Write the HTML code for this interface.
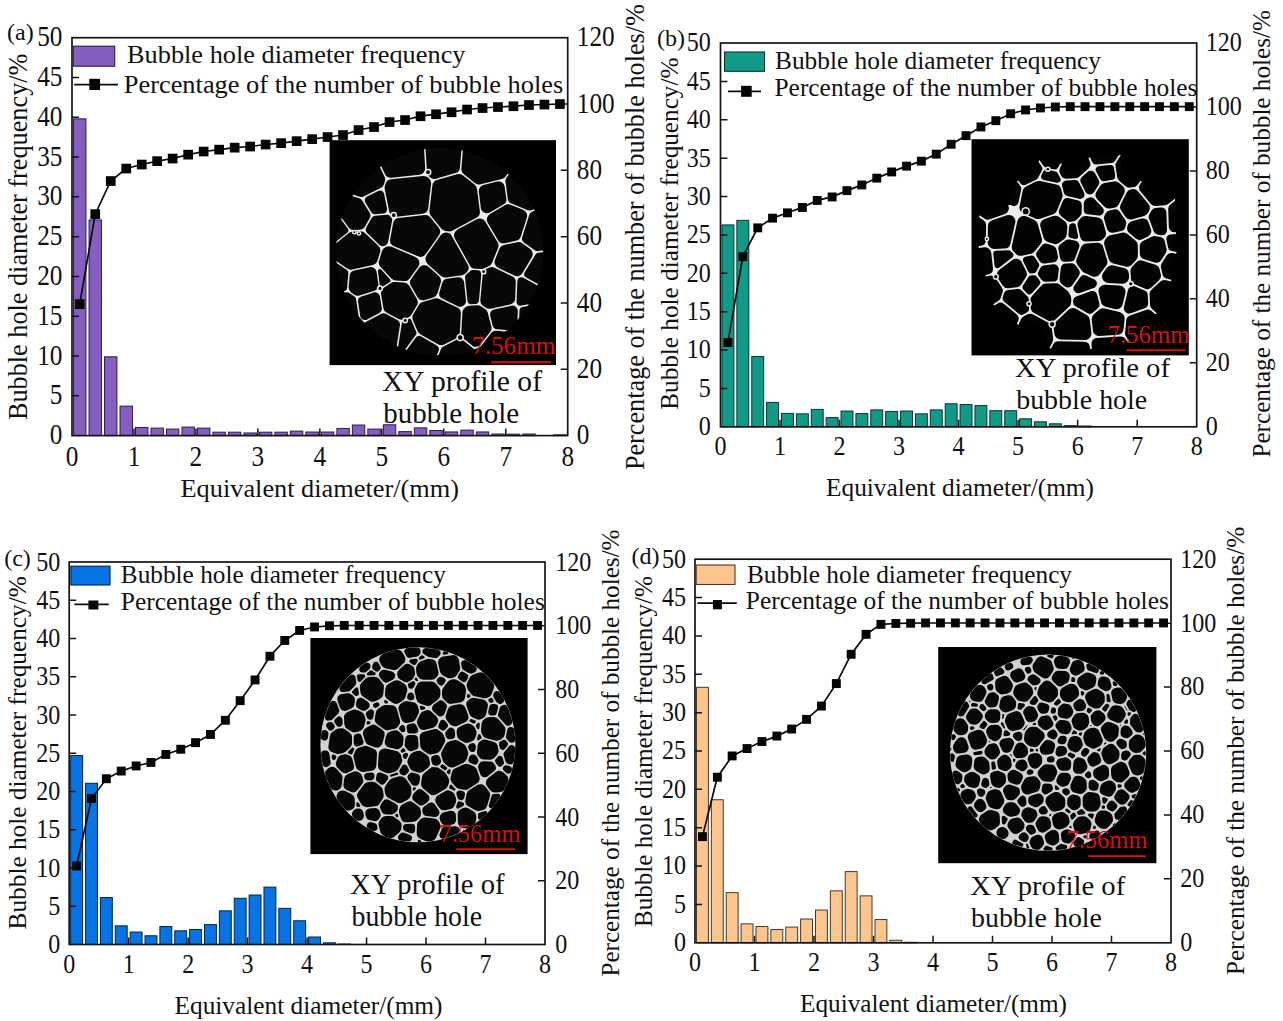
<!DOCTYPE html>
<html lang="en">
<head>
<meta charset="utf-8">
<title>Bubble hole diameter distribution</title>
<style>
html,body{margin:0;padding:0;background:#fff;}
body{width:1283px;height:1021px;overflow:hidden;}
svg{display:block;}
svg text{font-family:"Liberation Serif", serif;fill:#111;}
</style>
</head>
<body>
<svg width="1283" height="1021" viewBox="0 0 1283 1021">
<defs>
<filter id="soft" x="-5%" y="-5%" width="110%" height="110%" color-interpolation-filters="sRGB"><feGaussianBlur stdDeviation="0.55"/></filter>
</defs>
<rect width="1283" height="1021" fill="#fff"/>
<g id="pa">
<g fill="#845EC0" stroke="#2c1d4d" stroke-width="1.0"><rect x="73.55" y="118.87" width="12.39" height="316.73"/><rect x="89.04" y="219.94" width="12.39" height="215.66"/><rect x="104.53" y="356.82" width="12.39" height="78.78"/><rect x="120.02" y="406.16" width="12.39" height="29.44"/><rect x="135.51" y="427.48" width="12.39" height="8.12"/><rect x="151.00" y="428.12" width="12.39" height="7.48"/><rect x="166.49" y="429.07" width="12.39" height="6.53"/><rect x="181.98" y="427.08" width="12.39" height="8.52"/><rect x="197.47" y="428.12" width="12.39" height="7.48"/><rect x="212.96" y="432.18" width="12.39" height="3.42"/><rect x="228.46" y="432.18" width="12.39" height="3.42"/><rect x="243.95" y="432.97" width="12.39" height="2.63"/><rect x="259.44" y="432.18" width="12.39" height="3.42"/><rect x="274.93" y="432.18" width="12.39" height="3.42"/><rect x="290.42" y="431.14" width="12.39" height="4.46"/><rect x="305.91" y="432.02" width="12.39" height="3.58"/><rect x="321.40" y="432.02" width="12.39" height="3.58"/><rect x="336.89" y="428.44" width="12.39" height="7.16"/><rect x="352.38" y="425.02" width="12.39" height="10.58"/><rect x="367.87" y="429.07" width="12.39" height="6.53"/><rect x="383.36" y="424.78" width="12.39" height="10.82"/><rect x="398.85" y="431.62" width="12.39" height="3.98"/><rect x="414.34" y="427.88" width="12.39" height="7.72"/><rect x="429.83" y="430.51" width="12.39" height="5.09"/><rect x="445.32" y="431.94" width="12.39" height="3.66"/><rect x="460.81" y="430.11" width="12.39" height="5.49"/><rect x="476.31" y="431.94" width="12.39" height="3.66"/><rect x="491.80" y="434.01" width="12.39" height="1.59"/><rect x="507.29" y="434.17" width="12.39" height="1.43"/><rect x="522.78" y="434.01" width="12.39" height="1.59"/><rect x="553.76" y="434.80" width="12.39" height="0.80"/></g>
<rect x="72.0" y="37.7" width="495.7" height="397.9" fill="none" stroke="#141414" stroke-width="1.7"/>
<path d="M72.0 395.81h7.0M72.0 356.02h7.0M72.0 316.23h7.0M72.0 276.44h7.0M72.0 236.65h7.0M72.0 196.86h7.0M72.0 157.07h7.0M72.0 117.28h7.0M72.0 77.49h7.0M567.7 369.28h-7.0M567.7 302.97h-7.0M567.7 236.65h-7.0M567.7 170.33h-7.0M567.7 104.02h-7.0M133.96 435.6v-7.0M195.93 435.6v-7.0M257.89 435.6v-7.0M319.85 435.6v-7.0M381.81 435.6v-7.0M443.78 435.6v-7.0M505.74 435.6v-7.0" stroke="#141414" stroke-width="1.5" fill="none"/>
<g id="cta"><rect x="329.6" y="140.2" width="226.4" height="224.9" fill="#000"/><circle cx="439.6" cy="251.7" r="103.6" fill="#070707"/><clipPath id="cla"><circle cx="439.6" cy="251.7" r="103.6"/></clipPath><g clip-path="url(#cla)"><g filter="url(#soft)"><rect x="329.6" y="140.2" width="226.4" height="224.9" fill="#ececec"/><g fill="#070707" stroke="#070707" stroke-linejoin="round"><path d="M381.8 284.9L379.9 271.1L388.5 280.5Z" stroke-width="4.0"/><path d="M399.4 353.4L404.1 323.4L409.3 321.1L414.3 333.1Z" stroke-width="4.5"/><path d="M487.3 425.1L413.9 425.1L444.0 349.6L459.8 341.5L473.4 352.4ZM269.6 248.1L269.6 160.4L313.3 186.6L345.3 230.3L321.6 249.3Z" stroke-width="6.0"/><path d="M269.6 312.5L269.6 255.9L321.5 257.1L344.9 273.0L343.6 287.8Z" stroke-width="7.0"/><path d="M471.2 300.4L468.8 277.3L472.8 273.8L477.6 274.0L475.2 300.2ZM616.0 247.4L616.0 302.1L564.6 294.6L528.0 274.3L538.7 256.5ZM616.0 311.4L616.0 425.1L605.9 425.1L522.4 330.2L523.2 310.6L563.2 303.6ZM298.3 425.1L269.6 425.1L269.6 321.7L346.9 295.9L352.4 299.7L355.8 322.9Z" stroke-width="7.5"/><path d="M520.5 301.6L521.4 281.3L549.0 296.6Z" stroke-width="8.0"/><path d="M369.0 200.3L380.0 194.8L382.9 209.3L374.9 210.0Z" stroke-width="8.5"/><path d="M616.0 189.7L616.0 237.2L537.5 246.4L526.7 238.6L533.9 216.0ZM370.5 229.5L375.6 220.5L387.0 219.5L387.4 219.9L383.4 241.2L382.9 241.5ZM362.8 301.0L375.2 297.1L377.1 308.8L364.9 315.3ZM403.8 425.1L380.2 425.1L399.4 367.8L419.3 340.8L434.1 349.3Z" stroke-width="9.5"/><path d="M587.7 80.2L616.0 80.2L616.0 177.9L529.7 205.5L512.8 198.7L510.4 180.7ZM368.3 425.1L310.1 425.1L364.7 328.1L383.3 318.3L395.0 324.4L388.9 363.8ZM592.2 425.1L497.0 425.1L483.0 351.7L495.5 335.7L514.9 337.3Z" stroke-width="10.0"/><path d="M269.6 80.2L333.3 80.2L380.0 179.4L378.8 183.0L361.3 191.7L318.2 178.4L269.6 149.2ZM497.6 324.1L495.3 314.6L512.6 310.8L512.0 325.3Z" stroke-width="10.5"/><path d="M332.7 196.0L357.5 203.7L364.7 215.4L359.7 224.1L353.5 224.3ZM355.4 276.2L370.9 272.8L372.7 285.2L357.7 290.0L354.4 287.7ZM445.0 293.6L447.8 284.5L458.4 282.9L460.3 301.0ZM466.9 334.0L468.2 312.4L469.6 311.4L477.4 310.9L482.2 314.1L485.8 328.2L475.8 341.1Z" stroke-width="11.5"/><path d="M486.8 207.2L484.8 190.9L498.7 187.4L500.4 199.3Z" stroke-width="12.0"/><path d="M427.6 80.2L461.2 80.2L453.7 167.1L434.2 172.7L433.2 171.7ZM500.8 262.1L505.2 251.1L518.6 248.3L526.5 254.1L517.1 269.9Z" stroke-width="12.5"/><path d="M347.9 80.2L413.4 80.2L418.7 168.3L390.8 171.3ZM475.4 80.2L571.3 80.2L500.2 172.7L479.1 178.0L467.8 169.2ZM391.8 185.7L423.7 182.4L424.6 183.2L421.8 207.2L395.9 210.3L395.6 210.1L391.1 187.7ZM435.9 211.6L438.8 186.2L458.7 180.5L470.6 189.7L473.4 212.1L449.2 224.9L446.3 224.5ZM493.3 219.5L508.2 210.8L520.6 215.8L514.6 234.5L503.6 236.8ZM396.6 240.2L399.5 224.5L425.2 221.4L433.5 231.7L420.5 250.3ZM460.5 235.3L479.8 225.0L492.0 245.5L486.2 260.2L481.1 262.6L475.6 262.3ZM432.0 259.1L446.0 239.1L446.1 239.1L462.1 267.7L461.0 268.7L445.1 271.0ZM352.9 238.1L360.7 237.8L373.8 250.5L371.3 258.6L350.8 263.2L335.0 252.4ZM385.3 262.3L388.1 253.2L389.0 252.7L412.9 262.9L404.4 274.6L395.9 274.0ZM416.5 282.5L424.4 271.7L434.5 280.9L431.4 291.2L423.0 293.7ZM486.8 300.6L489.2 274.7L491.7 273.6L509.3 282.1L508.7 298.1L489.4 302.3ZM389.8 307.1L387.5 293.1L394.5 288.4L403.6 289.0L411.3 302.2L405.8 311.4L401.6 313.3ZM418.9 317.6L424.4 308.3L436.5 304.8L454.4 313.4L453.3 332.4L441.2 338.7L423.5 328.5Z" stroke-width="13.0"/></g><g fill="#ececec"><circle cx="393.7" cy="215.1" r="3.4"/><circle cx="428.1" cy="172.2" r="3.4"/><circle cx="380.0" cy="288.4" r="3.1"/><circle cx="405.2" cy="320.5" r="2.9"/><circle cx="483.6" cy="271.7" r="2.9"/><circle cx="460.2" cy="337.6" r="3.8"/><circle cx="358.9" cy="233.4" r="2.4"/><circle cx="354.3" cy="232.2" r="2.4"/></g><g fill="#070707"><circle cx="393.7" cy="215.1" r="1.9"/><circle cx="428.1" cy="172.2" r="1.9"/><circle cx="380.0" cy="288.4" r="1.6"/><circle cx="405.2" cy="320.5" r="1.4"/><circle cx="483.6" cy="271.7" r="1.4"/><circle cx="460.2" cy="337.6" r="2.3"/><circle cx="358.9" cy="233.4" r="0.9"/><circle cx="354.3" cy="232.2" r="0.9"/></g></g></g></g>
<text x="472.0" y="354.2" font-size="25" textLength="83.5" lengthAdjust="spacingAndGlyphs" style="fill:#d81010">7.56mm</text>
<path d="M491.2 362.2H551.2" stroke="#d81010" stroke-width="1.9"/>
<polyline points="79.7,304.2 95.2,214.2 110.7,181.0 126.2,168.5 141.7,164.5 157.2,161.2 172.7,158.5 188.2,154.7 203.7,151.5 219.2,149.7 234.7,147.7 250.1,146.5 265.6,144.5 281.1,143.2 296.6,141.2 312.1,139.2 327.6,137.0 343.1,135.0 358.6,130.0 374.1,127.0 389.6,122.0 405.0,120.0 420.5,116.2 436.0,114.2 451.5,112.2 467.0,109.5 482.5,108.0 498.0,107.0 513.5,106.2 529.0,105.0 544.5,104.5 560.0,104.0" fill="none" stroke="#0a0a0a" stroke-width="1.7"/>
<g fill="#050505"><rect x="74.9" y="299.3" width="9.7" height="9.7"/><rect x="90.4" y="209.3" width="9.7" height="9.7"/><rect x="105.9" y="176.2" width="9.7" height="9.7"/><rect x="121.4" y="163.7" width="9.7" height="9.7"/><rect x="136.9" y="159.7" width="9.7" height="9.7"/><rect x="152.3" y="156.3" width="9.7" height="9.7"/><rect x="167.8" y="153.7" width="9.7" height="9.7"/><rect x="183.3" y="149.8" width="9.7" height="9.7"/><rect x="198.8" y="146.7" width="9.7" height="9.7"/><rect x="214.3" y="144.8" width="9.7" height="9.7"/><rect x="229.8" y="142.8" width="9.7" height="9.7"/><rect x="245.3" y="141.7" width="9.7" height="9.7"/><rect x="260.8" y="139.7" width="9.7" height="9.7"/><rect x="276.3" y="138.3" width="9.7" height="9.7"/><rect x="291.8" y="136.3" width="9.7" height="9.7"/><rect x="307.3" y="134.3" width="9.7" height="9.7"/><rect x="322.7" y="132.2" width="9.7" height="9.7"/><rect x="338.2" y="130.2" width="9.7" height="9.7"/><rect x="353.7" y="125.2" width="9.7" height="9.7"/><rect x="369.2" y="122.2" width="9.7" height="9.7"/><rect x="384.7" y="117.2" width="9.7" height="9.7"/><rect x="400.2" y="115.2" width="9.7" height="9.7"/><rect x="415.7" y="111.4" width="9.7" height="9.7"/><rect x="431.2" y="109.4" width="9.7" height="9.7"/><rect x="446.7" y="107.4" width="9.7" height="9.7"/><rect x="462.2" y="104.7" width="9.7" height="9.7"/><rect x="477.7" y="103.2" width="9.7" height="9.7"/><rect x="493.1" y="102.2" width="9.7" height="9.7"/><rect x="508.6" y="101.4" width="9.7" height="9.7"/><rect x="524.1" y="100.2" width="9.7" height="9.7"/><rect x="539.6" y="99.7" width="9.7" height="9.7"/><rect x="555.1" y="99.2" width="9.7" height="9.7"/></g>
<rect x="73.3" y="46.2" width="41.4" height="20.0" fill="#845EC0" stroke="#2c1d4d" stroke-width="1.1"/>
<path d="M74.2 84.6H118.0" stroke="#0a0a0a" stroke-width="1.8"/>
<rect x="89.3" y="78.8" width="10.8" height="11.2" fill="#050505"/>
<text x="127.0" y="63.4" font-size="26" textLength="338.5" lengthAdjust="spacingAndGlyphs">Bubble hole diameter frequency</text>
<text x="123.8" y="93.2" font-size="26" textLength="439.5" lengthAdjust="spacingAndGlyphs">Percentage of the number of bubble holes</text>
<text transform="translate(62.40 444.20) scale(0.89 1)" font-size="28.4" text-anchor="end">0</text>
<text transform="translate(62.40 404.41) scale(0.89 1)" font-size="28.4" text-anchor="end">5</text>
<text transform="translate(62.40 364.62) scale(0.89 1)" font-size="28.4" text-anchor="end">10</text>
<text transform="translate(62.40 324.83) scale(0.89 1)" font-size="28.4" text-anchor="end">15</text>
<text transform="translate(62.40 285.04) scale(0.89 1)" font-size="28.4" text-anchor="end">20</text>
<text transform="translate(62.40 245.25) scale(0.89 1)" font-size="28.4" text-anchor="end">25</text>
<text transform="translate(62.40 205.46) scale(0.89 1)" font-size="28.4" text-anchor="end">30</text>
<text transform="translate(62.40 165.67) scale(0.89 1)" font-size="28.4" text-anchor="end">35</text>
<text transform="translate(62.40 125.88) scale(0.89 1)" font-size="28.4" text-anchor="end">40</text>
<text transform="translate(62.40 86.09) scale(0.89 1)" font-size="28.4" text-anchor="end">45</text>
<text transform="translate(62.40 46.30) scale(0.89 1)" font-size="28.4" text-anchor="end">50</text>
<text transform="translate(576.80 444.20) scale(0.89 1)" font-size="28.4">0</text>
<text transform="translate(576.80 377.88) scale(0.89 1)" font-size="28.4">20</text>
<text transform="translate(576.80 311.57) scale(0.89 1)" font-size="28.4">40</text>
<text transform="translate(576.80 245.25) scale(0.89 1)" font-size="28.4">60</text>
<text transform="translate(576.80 178.93) scale(0.89 1)" font-size="28.4">80</text>
<text transform="translate(576.80 112.62) scale(0.89 1)" font-size="28.4">100</text>
<text transform="translate(576.80 46.30) scale(0.89 1)" font-size="28.4">120</text>
<text transform="translate(72.00 465.50) scale(0.89 1)" font-size="28.4" text-anchor="middle">0</text>
<text transform="translate(133.96 465.50) scale(0.89 1)" font-size="28.4" text-anchor="middle">1</text>
<text transform="translate(195.93 465.50) scale(0.89 1)" font-size="28.4" text-anchor="middle">2</text>
<text transform="translate(257.89 465.50) scale(0.89 1)" font-size="28.4" text-anchor="middle">3</text>
<text transform="translate(319.85 465.50) scale(0.89 1)" font-size="28.4" text-anchor="middle">4</text>
<text transform="translate(381.81 465.50) scale(0.89 1)" font-size="28.4" text-anchor="middle">5</text>
<text transform="translate(443.78 465.50) scale(0.89 1)" font-size="28.4" text-anchor="middle">6</text>
<text transform="translate(505.74 465.50) scale(0.89 1)" font-size="28.4" text-anchor="middle">7</text>
<text transform="translate(567.70 465.50) scale(0.89 1)" font-size="28.4" text-anchor="middle">8</text>
<text x="180.5" y="496.8" font-size="26" textLength="278.5" lengthAdjust="spacingAndGlyphs">Equivalent diameter/(mm)</text>
<text x="27.0" y="420.1" font-size="27.3" textLength="366.5" lengthAdjust="spacingAndGlyphs" transform="rotate(-90 27.0 420.1)">Bubble hole diameter frequency/%</text>
<text x="644.2" y="470.1" font-size="27.3" textLength="466.0" lengthAdjust="spacingAndGlyphs" transform="rotate(-90 644.2 470.1)">Percentage of the number of bubble holes/%</text>
<text x="7.0" y="39.6" font-size="24">(a)</text>
<text x="382.0" y="391.3" font-size="29" textLength="160.0" lengthAdjust="spacingAndGlyphs">XY profile of</text>
<text x="383.2" y="423.0" font-size="29" textLength="136.0" lengthAdjust="spacingAndGlyphs">bubble hole</text>
</g>
<g id="pb">
<g fill="#129A88" stroke="#083530" stroke-width="1.0"><rect x="721.99" y="224.92" width="11.91" height="201.88"/><rect x="736.87" y="220.32" width="11.91" height="206.48"/><rect x="751.75" y="356.56" width="11.91" height="70.24"/><rect x="766.63" y="402.39" width="11.91" height="24.41"/><rect x="781.51" y="413.37" width="11.91" height="13.43"/><rect x="796.39" y="413.83" width="11.91" height="12.97"/><rect x="811.28" y="409.38" width="11.91" height="17.42"/><rect x="826.16" y="417.59" width="11.91" height="9.21"/><rect x="841.04" y="411.06" width="11.91" height="15.74"/><rect x="855.92" y="413.60" width="11.91" height="13.20"/><rect x="870.80" y="409.91" width="11.91" height="16.89"/><rect x="885.68" y="411.45" width="11.91" height="15.35"/><rect x="900.56" y="411.06" width="11.91" height="15.74"/><rect x="915.44" y="413.83" width="11.91" height="12.97"/><rect x="930.33" y="409.91" width="11.91" height="16.89"/><rect x="945.21" y="403.77" width="11.91" height="23.03"/><rect x="960.09" y="404.54" width="11.91" height="22.26"/><rect x="974.97" y="405.61" width="11.91" height="21.19"/><rect x="989.85" y="410.68" width="11.91" height="16.12"/><rect x="1004.73" y="410.68" width="11.91" height="16.12"/><rect x="1019.61" y="418.82" width="11.91" height="7.98"/><rect x="1034.49" y="421.81" width="11.91" height="4.99"/><rect x="1049.38" y="423.81" width="11.91" height="2.99"/><rect x="1064.26" y="425.65" width="11.91" height="1.15"/><rect x="1079.14" y="426.03" width="11.91" height="0.77"/></g>
<rect x="720.5" y="43.0" width="476.2" height="383.8" fill="none" stroke="#141414" stroke-width="1.7"/>
<path d="M720.5 388.42h7.0M720.5 350.04h7.0M720.5 311.66h7.0M720.5 273.28h7.0M720.5 234.90h7.0M720.5 196.52h7.0M720.5 158.14h7.0M720.5 119.76h7.0M720.5 81.38h7.0M1196.7 362.83h-7.0M1196.7 298.87h-7.0M1196.7 234.90h-7.0M1196.7 170.93h-7.0M1196.7 106.97h-7.0M780.02 426.8v-7.0M839.55 426.8v-7.0M899.08 426.8v-7.0M958.60 426.8v-7.0M1018.12 426.8v-7.0M1077.65 426.8v-7.0M1137.18 426.8v-7.0" stroke="#141414" stroke-width="1.5" fill="none"/>
<g id="ctb"><rect x="971.5" y="139.2" width="217.3" height="216.2" fill="#000"/><clipPath id="clb"><path d="M1067.4 177.8L1072.3 196.5L1062.7 220.2L1037.3 229.0L1013.7 218.7L1009.7 214.0L1009.4 211.5L1015.4 182.0L1036.9 171.2ZM1082.9 170.9L1097.0 198.7L1085.1 209.5L1057.3 202.6L1052.6 184.3L1056.5 172.2ZM1098.1 159.6L1110.2 183.0L1097.7 203.3L1082.6 205.7L1068.2 177.3L1091.4 156.3ZM1125.9 186.5L1096.6 191.5L1083.9 167.1L1086.3 158.1L1121.0 155.1ZM1103.7 218.9L1082.7 197.0L1096.1 175.4L1119.1 171.4L1137.4 186.8L1123.5 214.8ZM1046.9 216.5L1059.1 186.6L1091.0 194.5L1090.5 217.9L1080.0 229.5L1066.3 231.4ZM1074.5 221.8L1074.9 197.1L1083.5 189.3L1095.7 187.4L1116.3 208.9L1106.9 225.7ZM1162.0 206.4L1152.4 222.9L1124.3 230.7L1108.8 208.5L1122.1 181.5L1139.6 179.2ZM1094.0 216.1L1101.2 203.1L1121.6 198.9L1136.2 219.8L1132.0 237.8L1102.0 244.2ZM1167.5 245.9L1147.8 241.4L1138.4 215.3L1147.5 199.6L1174.9 197.2L1176.2 237.1ZM1021.6 203.2L1027.3 209.9L1016.6 256.9L989.2 258.1L978.7 249.7L979.2 215.6L1015.3 202.8ZM1001.4 251.6L1011.8 205.9L1012.8 205.0L1017.5 202.9L1044.4 214.6L1052.4 243.4L1038.5 261.1L1019.6 265.3L1012.0 262.6ZM1037.1 248.0L1027.9 215.3L1058.1 204.9L1076.9 219.3L1075.0 242.2L1058.3 254.7ZM1058.8 244.2L1061.1 216.0L1082.3 213.1L1089.3 246.3L1083.9 250.2ZM1072.7 245.0L1067.3 219.7L1079.5 206.3L1108.8 209.8L1116.4 236.5L1106.6 249.3L1078.6 250.9ZM1116.5 234.0L1120.9 215.1L1152.2 206.4L1163.8 238.6L1137.5 251.4ZM1102.7 270.0L1093.6 240.0L1103.1 227.6L1127.5 222.4L1146.6 238.2L1146.9 261.7L1131.9 277.4ZM1163.1 274.5L1130.9 264.4L1130.5 237.0L1152.9 226.2L1171.6 230.4L1176.6 252.7ZM1065.6 263.4L1075.5 236.5L1077.7 235.0L1108.3 233.2L1117.9 264.9L1099.8 289.3L1099.7 289.3L1076.8 279.1ZM1048.0 242.4L1065.6 229.3L1084.1 233.8L1091.0 240.7L1080.2 270.0L1057.6 270.8L1052.7 266.6ZM1024.2 253.4L1040.7 232.3L1063.7 239.7L1068.7 265.1L1064.5 269.8L1036.8 273.7ZM1011.0 250.9L1037.7 244.9L1050.1 264.8L1041.0 281.6L1023.9 283.0L1010.4 255.3ZM987.4 267.8L1015.0 246.7L1025.9 250.6L1037.9 275.2L1024.9 295.3L1000.5 298.1L985.2 275.1ZM983.1 242.3L1013.5 241.1L1026.6 254.8L1026.1 258.4L994.2 282.7L987.0 278.7L983.0 242.4ZM1026.5 274.8L1035.7 257.7L1062.5 253.9L1068.8 259.4L1065.6 290.2L1038.8 290.9ZM1049.9 285.8L1052.8 258.9L1056.4 254.8L1078.5 254.1L1091.9 272.6L1071.0 303.0ZM1010.0 288.8L1024.1 267.0L1039.7 265.7L1053.1 283.2L1029.7 309.3ZM1092.0 291.0L1088.4 277.7L1105.8 254.3L1136.9 262.2L1138.8 287.1L1130.6 293.2ZM1150.2 300.6L1123.5 289.0L1122.8 288.0L1121.1 265.6L1136.5 249.4L1166.4 258.8L1171.3 281.0ZM1022.1 316.6L1021.4 294.6L1039.0 274.9L1061.1 274.3L1075.7 286.1L1080.2 294.9L1080.0 308.9L1053.4 333.6ZM1068.3 306.7L1060.0 290.7L1079.2 262.6L1103.9 273.6L1106.6 283.7L1102.9 294.3ZM1063.9 309.9L1064.3 291.1L1101.3 277.8L1102.6 279.2L1110.1 309.5L1091.3 326.0ZM1094.5 313.3L1088.2 287.6L1092.7 275.0L1134.9 277.4L1137.3 280.8L1127.9 321.4ZM998.4 282.3L1023.2 279.4L1037.4 294.2L1038.1 316.4L1020.2 326.5L991.5 302.9ZM1043.7 320.8L1070.9 295.5L1097.9 311.3L1101.1 339.3L1094.7 349.0L1047.2 348.2ZM1085.5 344.4L1082.0 313.0L1099.0 297.9L1126.3 304.6L1134.0 313.3L1131.2 342.8L1086.7 345.8ZM1123.3 325.4L1113.2 314.0L1121.0 280.3L1129.4 274.2L1156.3 285.8L1157.5 313.2ZM1071.0 179.1L1066.3 193.9L1025.9 185.2L1039.8 159.2L1062.9 164.0Z" clip-rule="nonzero"/></clipPath><g clip-path="url(#clb)"><g filter="url(#soft)"><rect x="971.5" y="139.2" width="217.3" height="216.2" fill="#ececec"/><g fill="#030303" stroke="#030303" stroke-linejoin="round"><path d="M1071.1 235.2L1071.9 226.2L1073.2 226.0L1075.4 236.3Z" stroke-width="5.5"/><path d="M996.3 253.8L1008.5 253.3L1010.4 255.2L997.5 265.1Z" stroke-width="6.0"/><path d="M1026.2 260.0L1031.9 258.7L1036.0 265.2L1033.4 270.0L1031.2 270.2ZM1057.4 179.5L1044.3 176.7L1046.2 173.0L1054.9 174.8Z" stroke-width="6.5"/><path d="M1111.5 176.1L1103.6 177.5L1099.5 169.7L1110.3 168.7ZM1026.3 287.2L1031.4 279.2L1033.8 279.0L1036.5 282.5L1029.4 290.5Z" stroke-width="7.5"/><path d="M1068.2 191.6L1066.5 185.0L1075.0 184.6L1080.0 194.5ZM1008.4 294.5L1018.2 293.4L1024.3 299.7L1024.6 308.7L1021.6 310.4L1007.1 298.4ZM1080.3 79.2L1162.1 79.2L1111.2 158.6L1096.0 159.9L1082.3 126.8ZM1248.8 231.5L1248.8 262.0L1172.5 246.7L1170.8 239.0Z" stroke-width="9.0"/><path d="M1088.5 209.6L1088.6 203.3L1089.7 202.3L1090.7 202.1L1099.1 210.9ZM1078.2 288.5L1084.1 279.9L1092.1 283.5L1092.0 283.5ZM911.5 79.2L934.1 79.2L1016.5 188.7L1013.9 201.3L911.5 111.5ZM948.0 79.2L974.9 79.2L1037.5 168.7L1033.9 175.4L1024.1 180.3Z" stroke-width="9.5"/><path d="M1090.8 175.7L1094.3 182.4L1089.9 189.4L1085.4 180.5ZM1162.0 230.3L1158.4 229.5L1153.7 216.7L1155.9 212.9L1161.4 212.4ZM1063.3 248.3L1068.6 244.4L1074.4 245.7L1070.4 256.5L1064.9 256.7ZM1041.2 254.3L1045.7 248.6L1051.6 250.5L1053.0 257.3L1043.9 258.6ZM1043.0 273.5L1044.6 270.5L1053.8 269.2L1053.0 276.6L1045.5 276.8ZM1078.1 302.0L1078.1 301.1L1092.3 295.9L1094.5 304.6L1089.7 308.8ZM988.8 79.2L1069.1 79.2L1071.1 126.8L1054.2 164.4L1047.5 163.0Z" stroke-width="10.0"/><path d="M1129.1 308.2L1133.1 291.2L1142.5 295.3L1142.9 303.3Z" stroke-width="10.5"/><path d="M1064.4 211.7L1067.7 203.6L1076.3 205.7L1076.2 212.2L1072.8 215.9L1070.3 216.3ZM1109.5 217.9L1110.6 215.9L1115.2 214.9L1120.7 222.8L1120.1 225.6L1112.2 227.3ZM1065.1 279.6L1066.2 268.9L1071.3 268.8L1074.2 272.8L1068.0 281.9ZM1248.8 150.5L1248.8 219.7L1174.3 226.8L1173.7 208.9ZM1172.2 415.4L1101.5 415.4L1097.0 343.5L1120.7 341.9ZM1088.6 415.4L1023.9 415.4L1058.2 346.8L1084.4 347.3ZM911.5 286.3L911.5 263.5L984.9 252.7L985.8 253.3L987.5 268.8ZM980.6 224.8L980.4 240.3L911.5 250.5L911.5 180.5Z" stroke-width="11.0"/><path d="M1248.8 274.2L1248.8 295.1L1168.1 272.9L1166.6 266.2L1171.3 258.7ZM1248.8 408.2L1248.8 415.4L1188.1 415.4L1130.8 333.5L1132.0 320.9L1147.7 315.3ZM969.9 415.4L911.5 415.4L911.5 367.8L1000.4 308.5L1012.9 318.7ZM911.5 351.8L911.5 299.7L990.9 281.4L997.1 290.6L995.3 295.9Z" stroke-width="11.5"/><path d="M1133.1 228.5L1133.4 227.0L1142.9 224.4L1145.3 231.1L1139.6 233.9ZM1156.5 256.7L1145.8 253.4L1145.7 246.3L1154.7 242.0L1159.0 242.9L1160.6 250.0ZM1084.4 164.0L1075.3 172.3L1066.4 172.7L1065.4 170.8L1076.8 145.6ZM1002.9 208.3L988.0 213.6L911.5 164.6L911.5 128.2Z" stroke-width="12.0"/><path d="M1003.1 274.8L1016.1 264.9L1020.6 274.1L1016.0 281.1L1007.9 282.1ZM1147.1 282.8L1137.2 278.5L1136.7 271.1L1140.9 266.6L1153.5 270.6L1154.7 275.8ZM1176.9 79.2L1212.2 79.2L1132.4 181.1L1129.6 181.4L1123.4 176.2L1121.7 165.3Z" stroke-width="12.5"/><path d="M1054.9 190.8L1056.1 195.5L1051.0 208.0L1038.0 212.5L1026.0 207.2L1029.0 192.4L1038.9 187.4ZM1108.9 202.1L1102.1 195.0L1105.6 189.4L1114.7 187.8L1118.2 190.8L1113.0 201.3ZM1130.7 213.0L1126.6 207.1L1132.3 195.7L1133.1 195.6L1143.3 207.9L1142.3 209.7ZM1008.9 221.4L1004.2 242.0L994.3 242.5L994.2 242.4L994.4 226.5ZM1018.3 247.0L1023.8 222.4L1031.5 225.8L1035.5 240.0L1029.7 247.3L1020.6 249.3L1020.6 249.3ZM1049.7 235.8L1046.7 225.1L1055.3 222.2L1060.9 226.4L1060.2 234.1L1055.4 237.6ZM1086.4 235.1L1084.0 224.2L1085.5 222.5L1096.8 223.9L1099.5 233.3L1098.6 234.4ZM1110.6 243.0L1111.8 241.5L1123.4 239.0L1131.3 245.5L1131.4 255.6L1127.0 260.3L1114.9 257.2ZM1082.8 261.1L1087.0 249.9L1097.1 249.3L1100.9 261.9L1094.7 270.2L1086.9 266.7ZM1108.5 276.5L1112.0 271.7L1122.4 274.4L1122.6 277.3ZM1037.2 307.3L1037.0 300.2L1046.1 290.1L1055.8 289.8L1063.5 296.1L1064.7 298.6L1064.7 302.1L1051.0 314.8ZM1107.3 300.5L1105.0 291.2L1119.0 291.9L1116.4 302.8ZM1060.0 326.7L1073.0 314.6L1083.4 320.7L1084.9 333.5L1060.8 333.0ZM1099.3 329.5L1098.2 319.2L1103.2 314.8L1117.9 318.4L1118.1 318.5L1117.1 328.3ZM1230.6 79.2L1248.8 79.2L1248.8 133.0L1164.4 198.7L1155.6 199.5L1145.7 187.6ZM1248.8 309.7L1248.8 389.2L1156.5 304.3L1156.1 294.3L1164.5 286.5ZM1008.5 415.4L985.3 415.4L1026.8 322.1L1030.1 320.2L1045.3 328.5L1046.7 339.0Z" stroke-width="13.0"/></g><g fill="#ececec"><circle cx="1052.2" cy="324.3" r="3.7"/><circle cx="1025.7" cy="211.4" r="4.4"/><circle cx="1047.8" cy="169.3" r="2.8"/><circle cx="1029.0" cy="303.7" r="2.8"/><circle cx="1130.8" cy="283.8" r="3.1"/><circle cx="995.8" cy="276.7" r="3.1"/><circle cx="986.9" cy="239.0" r="2.4"/></g><g fill="#030303"><circle cx="1052.2" cy="324.3" r="2.2"/><circle cx="1025.7" cy="211.4" r="2.9"/><circle cx="1047.8" cy="169.3" r="1.3"/><circle cx="1029.0" cy="303.7" r="1.3"/><circle cx="1130.8" cy="283.8" r="1.6"/><circle cx="995.8" cy="276.7" r="1.6"/><circle cx="986.9" cy="239.0" r="0.9"/></g></g></g></g>
<text x="1107.5" y="343.2" font-size="25" textLength="82.0" lengthAdjust="spacingAndGlyphs" style="fill:#d81010">7.56mm</text>
<path d="M1126.7 350.2H1185.5" stroke="#d81010" stroke-width="1.9"/>
<polyline points="727.9,342.5 742.8,256.6 757.7,227.8 772.6,218.1 787.5,212.8 802.3,207.4 817.2,200.4 832.1,196.9 847.0,190.6 861.9,184.9 876.8,178.1 891.6,171.9 906.5,166.1 921.4,161.1 936.3,154.1 951.2,144.2 966.0,135.7 980.9,127.0 995.8,120.7 1010.7,113.8 1025.6,110.0 1040.4,108.0 1055.3,107.0 1070.2,106.7 1085.1,106.7 1100.0,106.7 1114.9,106.7 1129.7,106.7 1144.6,106.7 1159.5,106.7 1174.4,106.7 1189.3,106.7" fill="none" stroke="#0a0a0a" stroke-width="1.7"/>
<g fill="#050505"><rect x="723.5" y="338.1" width="8.9" height="8.9"/><rect x="738.4" y="252.2" width="8.9" height="8.9"/><rect x="753.3" y="223.4" width="8.9" height="8.9"/><rect x="768.1" y="213.7" width="8.9" height="8.9"/><rect x="783.0" y="208.4" width="8.9" height="8.9"/><rect x="797.9" y="203.0" width="8.9" height="8.9"/><rect x="812.8" y="196.0" width="8.9" height="8.9"/><rect x="827.7" y="192.5" width="8.9" height="8.9"/><rect x="842.5" y="186.2" width="8.9" height="8.9"/><rect x="857.4" y="180.5" width="8.9" height="8.9"/><rect x="872.3" y="173.7" width="8.9" height="8.9"/><rect x="887.2" y="167.5" width="8.9" height="8.9"/><rect x="902.1" y="161.7" width="8.9" height="8.9"/><rect x="916.9" y="156.7" width="8.9" height="8.9"/><rect x="931.8" y="149.7" width="8.9" height="8.9"/><rect x="946.7" y="139.8" width="8.9" height="8.9"/><rect x="961.6" y="131.2" width="8.9" height="8.9"/><rect x="976.5" y="122.5" width="8.9" height="8.9"/><rect x="991.4" y="116.2" width="8.9" height="8.9"/><rect x="1006.2" y="109.3" width="8.9" height="8.9"/><rect x="1021.1" y="105.5" width="8.9" height="8.9"/><rect x="1036.0" y="103.5" width="8.9" height="8.9"/><rect x="1050.9" y="102.5" width="8.9" height="8.9"/><rect x="1065.8" y="102.2" width="8.9" height="8.9"/><rect x="1080.6" y="102.2" width="8.9" height="8.9"/><rect x="1095.5" y="102.2" width="8.9" height="8.9"/><rect x="1110.4" y="102.2" width="8.9" height="8.9"/><rect x="1125.3" y="102.2" width="8.9" height="8.9"/><rect x="1140.2" y="102.2" width="8.9" height="8.9"/><rect x="1155.0" y="102.2" width="8.9" height="8.9"/><rect x="1169.9" y="102.2" width="8.9" height="8.9"/><rect x="1184.8" y="102.2" width="8.9" height="8.9"/></g>
<rect x="724.5" y="52.0" width="40.0" height="19.3" fill="#129A88" stroke="#083530" stroke-width="1.1"/>
<path d="M728.0 91.4H761.0" stroke="#0a0a0a" stroke-width="1.8"/>
<rect x="741.1" y="85.8" width="10.6" height="11.0" fill="#050505"/>
<text x="775.0" y="68.6" font-size="25.5" textLength="326.0" lengthAdjust="spacingAndGlyphs">Bubble hole diameter frequency</text>
<text x="774.5" y="95.6" font-size="25.5" textLength="423.0" lengthAdjust="spacingAndGlyphs">Percentage of the number of bubble holes</text>
<text transform="translate(710.80 435.19) scale(0.875 1)" font-size="27.5" text-anchor="end">0</text>
<text transform="translate(710.80 396.81) scale(0.875 1)" font-size="27.5" text-anchor="end">5</text>
<text transform="translate(710.80 358.44) scale(0.875 1)" font-size="27.5" text-anchor="end">10</text>
<text transform="translate(710.80 320.06) scale(0.875 1)" font-size="27.5" text-anchor="end">15</text>
<text transform="translate(710.80 281.67) scale(0.875 1)" font-size="27.5" text-anchor="end">20</text>
<text transform="translate(710.80 243.30) scale(0.875 1)" font-size="27.5" text-anchor="end">25</text>
<text transform="translate(710.80 204.92) scale(0.875 1)" font-size="27.5" text-anchor="end">30</text>
<text transform="translate(710.80 166.53) scale(0.875 1)" font-size="27.5" text-anchor="end">35</text>
<text transform="translate(710.80 128.16) scale(0.875 1)" font-size="27.5" text-anchor="end">40</text>
<text transform="translate(710.80 89.77) scale(0.875 1)" font-size="27.5" text-anchor="end">45</text>
<text transform="translate(710.80 51.39) scale(0.875 1)" font-size="27.5" text-anchor="end">50</text>
<text transform="translate(1205.80 435.19) scale(0.875 1)" font-size="27.5">0</text>
<text transform="translate(1205.80 371.23) scale(0.875 1)" font-size="27.5">20</text>
<text transform="translate(1205.80 307.26) scale(0.875 1)" font-size="27.5">40</text>
<text transform="translate(1205.80 243.30) scale(0.875 1)" font-size="27.5">60</text>
<text transform="translate(1205.80 179.33) scale(0.875 1)" font-size="27.5">80</text>
<text transform="translate(1205.80 115.36) scale(0.875 1)" font-size="27.5">100</text>
<text transform="translate(1205.80 51.39) scale(0.875 1)" font-size="27.5">120</text>
<text transform="translate(720.50 455.00) scale(0.875 1)" font-size="27.5" text-anchor="middle">0</text>
<text transform="translate(780.02 455.00) scale(0.875 1)" font-size="27.5" text-anchor="middle">1</text>
<text transform="translate(839.55 455.00) scale(0.875 1)" font-size="27.5" text-anchor="middle">2</text>
<text transform="translate(899.08 455.00) scale(0.875 1)" font-size="27.5" text-anchor="middle">3</text>
<text transform="translate(958.60 455.00) scale(0.875 1)" font-size="27.5" text-anchor="middle">4</text>
<text transform="translate(1018.12 455.00) scale(0.875 1)" font-size="27.5" text-anchor="middle">5</text>
<text transform="translate(1077.65 455.00) scale(0.875 1)" font-size="27.5" text-anchor="middle">6</text>
<text transform="translate(1137.18 455.00) scale(0.875 1)" font-size="27.5" text-anchor="middle">7</text>
<text transform="translate(1196.70 455.00) scale(0.875 1)" font-size="27.5" text-anchor="middle">8</text>
<text x="826.0" y="495.6" font-size="25.5" textLength="268.0" lengthAdjust="spacingAndGlyphs">Equivalent diameter/(mm)</text>
<text x="678.0" y="409.8" font-size="25.0" textLength="352.3" lengthAdjust="spacingAndGlyphs" transform="rotate(-90 678.0 409.8)">Bubble hole diameter frequency/%</text>
<text x="1270.0" y="457.6" font-size="25.0" textLength="447.6" lengthAdjust="spacingAndGlyphs" transform="rotate(-90 1270.0 457.6)">Percentage of the number of bubble holes/%</text>
<text x="657.0" y="46.3" font-size="24">(b)</text>
<text x="1015.0" y="376.9" font-size="28" textLength="155.0" lengthAdjust="spacingAndGlyphs">XY profile of</text>
<text x="1016.2" y="409.0" font-size="28" textLength="131.0" lengthAdjust="spacingAndGlyphs">bubble hole</text>
</g>
<g id="pc">
<g fill="#0674E4" stroke="#04244c" stroke-width="1.0"><rect x="70.69" y="755.54" width="11.90" height="188.96"/><rect x="85.56" y="783.31" width="11.90" height="161.19"/><rect x="100.42" y="897.53" width="11.90" height="46.97"/><rect x="115.29" y="925.83" width="11.90" height="18.67"/><rect x="130.16" y="932.03" width="11.90" height="12.47"/><rect x="145.03" y="935.78" width="11.90" height="8.72"/><rect x="159.90" y="926.52" width="11.90" height="17.98"/><rect x="174.77" y="930.81" width="11.90" height="13.69"/><rect x="189.64" y="929.51" width="11.90" height="14.99"/><rect x="204.51" y="924.61" width="11.90" height="19.89"/><rect x="219.37" y="910.84" width="11.90" height="33.66"/><rect x="234.24" y="898.29" width="11.90" height="46.21"/><rect x="249.11" y="895.00" width="11.90" height="49.50"/><rect x="263.98" y="887.12" width="11.90" height="57.38"/><rect x="278.85" y="908.32" width="11.90" height="36.18"/><rect x="293.72" y="920.78" width="11.90" height="23.72"/><rect x="308.59" y="937.00" width="11.90" height="7.50"/><rect x="323.46" y="942.82" width="11.90" height="1.68"/><rect x="338.32" y="944.04" width="11.90" height="0.46"/></g>
<rect x="69.2" y="562.0" width="475.8" height="382.5" fill="none" stroke="#141414" stroke-width="1.7"/>
<path d="M69.2 906.25h7.0M69.2 868.00h7.0M69.2 829.75h7.0M69.2 791.50h7.0M69.2 753.25h7.0M69.2 715.00h7.0M69.2 676.75h7.0M69.2 638.50h7.0M69.2 600.25h7.0M545.0 880.75h-7.0M545.0 817.00h-7.0M545.0 753.25h-7.0M545.0 689.50h-7.0M545.0 625.75h-7.0M128.68 944.5v-7.0M188.15 944.5v-7.0M247.62 944.5v-7.0M307.10 944.5v-7.0M366.57 944.5v-7.0M426.05 944.5v-7.0M485.52 944.5v-7.0" stroke="#141414" stroke-width="1.5" fill="none"/>
<g id="ctc"><rect x="310.4" y="638.0" width="217.2" height="216.1" fill="#000"/><circle cx="417.9" cy="744.8" r="97.5" fill="#070707"/><clipPath id="clc"><circle cx="417.9" cy="744.8" r="97.5"/></clipPath><g clip-path="url(#clc)"><g filter="url(#soft)"><rect x="310.4" y="638.0" width="217.2" height="216.1" fill="#d2d2d2"/><g fill="#070707" stroke="#070707" stroke-linejoin="round"><path d="M463.3 830.5L463.0 830.0L464.0 830.2Z" stroke-width="0.5"/><path d="M418.6 841.5L418.6 840.4L420.7 841.4ZM413.7 789.9L413.6 788.1L415.4 788.2ZM397.6 774.0L390.9 776.0L390.8 775.5L397.2 773.3Z" stroke-width="1.5"/><path d="M447.3 653.2L443.7 653.7L444.3 652.3ZM423.7 657.3L420.0 658.8L419.8 658.1L421.9 656.2ZM401.5 750.9L403.4 749.1L404.6 750.6L402.1 751.8ZM417.1 680.2L417.1 680.2L415.6 679.3L416.0 678.5ZM450.9 785.6L454.5 789.4L454.3 789.7L450.1 787.5Z" stroke-width="2.0"/><path d="M478.6 723.9L478.2 728.0L477.1 725.4ZM386.7 702.2L385.5 702.2L385.4 701.3ZM357.7 805.7L357.6 803.5L359.0 805.8ZM478.2 739.1L479.3 735.4L480.5 737.5ZM396.9 815.0L397.2 815.9L396.4 815.3ZM449.5 770.3L448.8 773.1L448.0 771.9ZM471.0 720.2L474.7 721.6L474.0 722.3L470.7 720.9ZM421.0 707.0L424.0 708.0L421.6 708.9ZM369.3 722.7L367.8 723.5L368.1 722.3Z" stroke-width="2.5"/><path d="M374.2 673.8L368.3 674.1L371.0 671.8ZM349.5 752.3L352.8 749.2L351.1 752.9ZM445.1 768.7L441.8 766.5L442.6 765.8L445.6 768.2ZM468.3 696.4L468.5 695.5L468.9 696.0Z" stroke-width="3.0"/><path d="M479.7 817.8L479.8 814.4L485.4 812.7ZM356.6 689.2L357.2 693.9L356.4 694.3L353.8 692.1Z" stroke-width="3.5"/><path d="M363.2 676.2L359.5 679.9L358.9 676.2ZM411.4 661.3L415.7 660.6L415.8 660.7L414.2 663.0ZM406.1 754.9L405.1 757.0L404.7 755.6ZM490.7 700.8L490.4 700.3L491.1 699.9L491.5 700.7ZM333.6 756.6L334.3 756.8L333.8 758.0ZM458.1 806.6L459.3 803.4L462.1 804.1L462.1 804.2Z" stroke-width="4.0"/><path d="M491.0 805.8L493.8 796.3L498.1 796.0L497.5 797.0L491.9 804.7ZM403.0 730.0L401.4 728.5L402.5 727.2ZM413.1 683.6L411.6 686.6L410.6 686.5L410.1 685.1L413.1 683.6ZM377.2 704.6L375.5 705.6L375.3 705.4Z" stroke-width="4.5"/><path d="M459.4 793.5L462.0 794.0L461.3 797.2L460.5 797.0ZM443.1 727.6L441.3 726.3L442.7 722.8L445.0 725.5ZM371.0 712.3L370.3 716.8L369.8 716.6L368.9 713.9ZM504.0 742.9L504.9 744.0L502.6 746.8L502.0 744.0ZM499.8 758.9L501.0 762.6L500.0 763.6L498.1 760.9ZM440.7 679.7L442.6 680.7L441.1 682.6L439.7 680.8Z" stroke-width="6.0"/><path d="M410.4 697.0L410.7 695.7L411.1 697.1ZM329.4 725.5L330.5 725.3L331.4 726.6L330.6 727.2ZM357.0 743.2L356.9 737.1L358.5 736.7L360.2 742.1ZM339.4 723.4L339.2 723.5L337.6 721.3L339.2 719.7ZM508.4 770.4L506.2 768.6L506.4 768.5L508.7 769.3ZM375.9 665.0L377.4 667.8L377.0 668.3L375.4 667.3ZM404.5 768.0L405.7 770.4L404.1 772.1L402.8 771.7L402.6 771.3ZM367.4 776.3L371.3 775.7L371.1 776.9L367.8 777.2ZM463.9 678.8L461.1 676.9L462.3 675.0L465.0 676.6Z" stroke-width="6.5"/><path d="M330.1 716.8L328.4 717.1L329.0 714.8L332.5 706.1L333.4 704.3L335.8 711.0ZM511.6 739.3L509.4 736.8L510.7 730.7L510.7 730.6L511.6 739.0ZM370.4 825.6L373.7 826.4L374.0 827.7ZM401.5 837.2L402.8 836.0L408.5 838.0L401.6 837.2ZM417.0 651.0L417.1 652.1L415.7 653.4L409.5 654.4L407.9 651.6L416.4 651.0ZM508.8 721.9L508.0 722.3L501.5 714.9L503.2 708.6L504.2 708.4L505.6 711.5L508.5 720.4ZM510.3 761.0L508.9 760.5L507.0 754.2L511.7 748.6L511.6 750.7L510.6 760.0ZM347.8 688.1L342.9 688.6L344.4 686.6L350.5 679.5L352.1 678.1L352.8 682.8ZM367.0 666.1L366.9 666.6L364.1 669.1L362.7 669.1ZM442.9 835.2L445.1 830.3L455.5 829.8L456.1 830.3L452.8 831.9L444.0 834.9ZM500.5 700.3L500.2 700.4L499.1 699.8L496.7 695.5L497.0 694.5L499.9 699.2ZM324.8 733.6L325.0 733.9L324.5 737.0ZM324.6 754.1L325.6 754.0L325.9 754.3L327.2 762.9L326.1 763.6L324.7 755.7ZM473.2 669.1L470.5 670.1L465.2 667.0L464.7 663.6L466.3 664.5ZM437.1 653.1L437.0 653.3L435.3 654.6L429.4 653.6L426.0 651.4L426.2 651.4L435.5 652.7ZM474.7 761.1L471.9 759.9L472.6 758.1L473.5 758.1L475.0 760.5ZM491.7 712.1L492.7 707.6L494.6 707.4L493.4 712.0ZM411.6 829.9L406.5 828.0L406.5 827.6L411.7 827.2ZM436.6 762.2L435.2 762.0L434.6 759.0L436.7 758.5L437.6 761.3ZM410.0 727.5L413.1 726.8L414.7 730.1L410.4 730.1ZM379.9 776.0L384.7 777.7L382.3 781.1L379.4 778.9ZM471.7 747.0L472.4 746.7L472.2 748.5Z" stroke-width="7.0"/><path d="M451.1 731.4L451.4 735.3L449.6 735.6L448.9 733.8Z" stroke-width="7.5"/><path d="M375.1 816.9L370.1 815.8L369.5 812.8L375.4 812.3L376.5 814.8ZM363.8 706.5L360.2 704.9L360.6 702.0L365.4 705.3ZM412.1 776.9L415.8 777.9L415.3 781.6L414.8 781.5L411.8 777.2Z" stroke-width="8.5"/><path d="M414.1 745.6L410.8 746.7L409.1 744.7L409.7 739.6L413.7 739.6ZM431.2 807.0L435.0 812.5L435.0 812.5L427.0 811.5L426.8 810.2ZM436.5 708.2L440.7 705.0L442.4 706.6L440.5 711.9ZM386.3 678.1L383.5 674.8L384.1 674.2L390.7 675.8Z" stroke-width="9.0"/><path d="M417.0 797.2L417.2 796.5L419.7 794.0L424.7 798.2L421.4 800.7ZM445.4 820.3L444.3 818.1L444.9 816.8L451.2 815.5L451.3 820.0ZM386.8 804.2L393.2 807.6L393.0 808.5L391.3 809.8L386.0 809.7L384.8 807.2ZM484.8 772.6L482.8 767.0L483.4 766.0L490.2 766.2L491.1 767.6Z" stroke-width="9.5"/><path d="M357.0 814.1L357.7 813.5L358.4 813.5L358.9 815.8ZM406.3 677.2L402.3 674.9L402.2 673.7L407.4 668.8L409.6 670.1L410.0 673.6L408.8 675.9Z" stroke-width="10.0"/><path d="M344.8 705.7L342.5 699.1L348.0 698.5L349.7 699.9L349.2 703.8Z" stroke-width="10.5"/><path d="M342.6 760.3L344.9 759.7L347.1 760.5L348.5 766.3L345.2 767.7L341.4 763.8Z" stroke-width="11.0"/><path d="M391.7 737.1L395.3 736.1L397.9 738.4L397.3 743.2L397.0 743.5L390.5 742.0ZM462.4 731.7L467.9 729.2L469.5 729.9L470.8 732.9L469.9 736.0L466.8 737.2L462.7 734.9ZM405.3 809.3L409.7 807.1L415.1 811.2L415.3 813.9L413.2 816.1L406.4 816.6L404.7 811.5ZM441.0 800.3L448.0 796.1L449.4 796.8L450.5 800.0L449.3 803.4L443.9 804.5ZM431.7 722.1L423.8 724.1L422.7 721.9L425.1 716.9L427.5 715.9L432.3 720.4ZM465.4 813.2L470.6 816.2L470.4 819.7L466.0 822.7L463.8 822.3L463.6 822.1L463.4 814.3ZM349.2 784.8L349.8 779.6L355.5 777.1L356.5 777.7L357.6 780.6L353.0 786.6Z" stroke-width="11.5"/><path d="M341.7 734.3L346.0 737.3L346.1 743.0L341.7 747.1L338.3 748.0L334.4 746.6L335.9 736.7L339.3 734.4ZM473.6 778.5L465.1 783.8L460.3 782.9L456.6 778.9L456.5 778.4L457.7 773.7L466.5 769.7L471.3 771.7ZM451.6 671.9L449.6 672.3L445.8 670.3L444.1 662.4L453.1 661.1L454.1 668.1ZM391.2 711.2L394.1 721.7L393.2 722.9L387.6 724.3L380.7 719.3L381.7 713.5L385.6 711.0ZM424.0 763.4L419.9 766.7L415.3 765.5L413.4 761.6L415.2 758.0L418.7 756.8L423.4 759.8ZM331.2 773.6L332.1 773.0L336.6 777.6L335.8 784.5L335.7 784.5L334.6 782.4L331.3 773.9ZM372.6 695.8L366.4 691.6L365.8 687.0L369.7 683.0L374.4 682.8L378.0 686.9L377.3 693.6ZM365.4 751.8L371.0 754.0L370.4 764.8L363.0 766.0L361.7 765.3L359.5 756.5L360.8 753.5ZM405.4 792.6L404.8 794.5L399.8 797.1L391.0 792.4L390.5 789.1L394.1 783.9L400.0 782.2L401.0 782.5L405.3 788.7ZM499.3 786.2L494.8 786.5L491.9 782.8L499.3 777.0L502.4 779.5L502.4 779.7ZM452.4 685.6L454.2 685.2L459.6 688.8L460.1 690.6L459.1 696.5L450.7 697.9L448.0 695.3L448.0 691.3ZM473.6 703.8L481.9 705.5L480.4 712.6L479.0 713.6L475.2 712.2L472.4 704.6ZM434.4 691.3L434.4 694.8L427.7 699.9L422.3 698.1L420.6 690.7L422.3 687.4L431.3 687.4ZM354.2 726.4L350.3 723.7L350.0 717.4L354.6 715.4L358.8 717.3L359.6 719.8L358.4 724.6L357.5 725.7ZM342.6 796.5L348.7 799.4L348.9 804.4L348.7 804.5L343.2 797.5ZM377.0 791.2L377.7 795.4L374.5 800.4L366.5 801.2L363.1 795.5L368.7 788.1L372.6 787.8ZM427.9 777.8L433.6 773.1L435.7 773.3L440.5 776.5L443.1 780.7L443.2 781.3L442.3 783.8L433.3 789.2L427.0 783.9ZM384.6 754.4L395.0 756.8L395.3 757.2L396.2 760.5L393.4 765.7L388.7 767.3L384.0 765.6ZM430.8 748.4L426.2 745.5L425.7 737.5L435.2 735.1L438.0 737.1L439.2 740.4L435.3 747.3ZM397.4 655.8L399.3 659.2L394.1 664.1L386.8 662.4L385.2 659.6L387.3 658.7L396.1 656.1ZM485.2 692.3L476.0 690.4L473.3 687.0L472.7 685.2L475.0 680.4L480.5 678.3L481.2 678.9L487.5 685.6L488.1 686.4L486.3 691.6ZM422.7 833.2L423.0 825.3L424.8 823.4L433.7 824.5L434.6 826.2L430.7 835.2L427.9 835.6ZM484.6 745.6L491.9 747.5L492.6 750.9L490.2 753.7L483.8 753.6L482.9 752.2L483.6 746.2ZM399.6 695.6L395.9 697.8L390.9 694.4L391.4 689.0L396.9 686.2L400.7 688.4L401.3 689.8ZM487.5 724.2L488.9 723.2L493.7 723.0L499.5 729.6L498.8 733.7L496.7 734.8L487.9 732.4L487.0 730.7ZM472.5 795.2L480.5 790.2L484.1 794.9L481.3 804.2L478.3 805.1L471.3 801.1ZM386.0 829.9L384.5 824.1L385.9 822.0L390.9 822.0L395.6 825.6L395.4 827.8L390.6 832.1L387.1 830.8ZM453.5 711.3L459.9 710.2L462.5 716.9L455.1 720.3L454.2 719.9L451.6 716.7ZM461.0 757.3L451.8 761.5L448.5 758.8L447.1 754.1L451.1 747.0L455.2 746.1L460.7 749.2L462.3 753.6ZM406.9 717.0L404.5 708.4L406.6 707.1L412.2 708.2L413.0 711.1L410.7 716.1ZM430.8 665.2L432.5 672.8L431.6 673.8L423.3 673.8L422.4 672.4L422.0 668.5L423.2 666.8L428.5 664.8ZM373.2 730.7L378.6 734.5L376.8 741.6L370.9 739.4L368.9 733.2L369.2 732.9Z" stroke-width="12.0"/></g></g></g></g>
<text x="439.5" y="842.4" font-size="25" textLength="81.0" lengthAdjust="spacingAndGlyphs" style="fill:#d81010">7.56mm</text>
<path d="M456.2 849.2H515.0" stroke="#d81010" stroke-width="1.9"/>
<polyline points="76.6,866.0 91.5,798.5 106.4,778.8 121.2,771.1 136.1,766.0 151.0,762.5 165.8,754.5 180.7,749.2 195.6,742.7 210.5,734.5 225.3,720.2 240.2,700.7 255.1,680.0 269.9,656.2 284.8,640.5 299.7,630.5 314.5,627.0 329.4,625.8 344.3,625.5 359.1,625.5 374.0,625.5 388.9,625.5 403.7,625.5 418.6,625.5 433.5,625.5 448.4,625.5 463.2,625.5 478.1,625.5 493.0,625.5 507.8,625.5 522.7,625.5 537.6,625.5" fill="none" stroke="#0a0a0a" stroke-width="1.7"/>
<g fill="#050505"><rect x="72.2" y="861.5" width="8.9" height="8.9"/><rect x="87.1" y="794.0" width="8.9" height="8.9"/><rect x="101.9" y="774.3" width="8.9" height="8.9"/><rect x="116.8" y="766.6" width="8.9" height="8.9"/><rect x="131.7" y="761.5" width="8.9" height="8.9"/><rect x="146.5" y="758.0" width="8.9" height="8.9"/><rect x="161.4" y="750.0" width="8.9" height="8.9"/><rect x="176.3" y="744.8" width="8.9" height="8.9"/><rect x="191.1" y="738.2" width="8.9" height="8.9"/><rect x="206.0" y="730.0" width="8.9" height="8.9"/><rect x="220.9" y="715.8" width="8.9" height="8.9"/><rect x="235.7" y="696.2" width="8.9" height="8.9"/><rect x="250.6" y="675.5" width="8.9" height="8.9"/><rect x="265.5" y="651.8" width="8.9" height="8.9"/><rect x="280.3" y="636.0" width="8.9" height="8.9"/><rect x="295.2" y="626.0" width="8.9" height="8.9"/><rect x="310.1" y="622.5" width="8.9" height="8.9"/><rect x="325.0" y="621.3" width="8.9" height="8.9"/><rect x="339.8" y="621.0" width="8.9" height="8.9"/><rect x="354.7" y="621.0" width="8.9" height="8.9"/><rect x="369.6" y="621.0" width="8.9" height="8.9"/><rect x="384.4" y="621.0" width="8.9" height="8.9"/><rect x="399.3" y="621.0" width="8.9" height="8.9"/><rect x="414.2" y="621.0" width="8.9" height="8.9"/><rect x="429.0" y="621.0" width="8.9" height="8.9"/><rect x="443.9" y="621.0" width="8.9" height="8.9"/><rect x="458.8" y="621.0" width="8.9" height="8.9"/><rect x="473.6" y="621.0" width="8.9" height="8.9"/><rect x="488.5" y="621.0" width="8.9" height="8.9"/><rect x="503.4" y="621.0" width="8.9" height="8.9"/><rect x="518.2" y="621.0" width="8.9" height="8.9"/><rect x="533.1" y="621.0" width="8.9" height="8.9"/></g>
<rect x="70.8" y="566.2" width="39.2" height="18.8" fill="#0674E4" stroke="#04244c" stroke-width="1.1"/>
<path d="M74.5 604.3H108.8" stroke="#0a0a0a" stroke-width="1.8"/>
<rect x="88.4" y="600.5" width="10.0" height="9.0" fill="#050505"/>
<text x="120.8" y="582.9" font-size="25.5" textLength="325.0" lengthAdjust="spacingAndGlyphs">Bubble hole diameter frequency</text>
<text x="120.8" y="610.3" font-size="25.5" textLength="424.0" lengthAdjust="spacingAndGlyphs">Percentage of the number of bubble holes</text>
<text transform="translate(60.40 953.20) scale(0.875 1)" font-size="27.5" text-anchor="end">0</text>
<text transform="translate(60.40 914.95) scale(0.875 1)" font-size="27.5" text-anchor="end">5</text>
<text transform="translate(60.40 876.70) scale(0.875 1)" font-size="27.5" text-anchor="end">10</text>
<text transform="translate(60.40 838.45) scale(0.875 1)" font-size="27.5" text-anchor="end">15</text>
<text transform="translate(60.40 800.20) scale(0.875 1)" font-size="27.5" text-anchor="end">20</text>
<text transform="translate(60.40 761.95) scale(0.875 1)" font-size="27.5" text-anchor="end">25</text>
<text transform="translate(60.40 723.70) scale(0.875 1)" font-size="27.5" text-anchor="end">30</text>
<text transform="translate(60.40 685.45) scale(0.875 1)" font-size="27.5" text-anchor="end">35</text>
<text transform="translate(60.40 647.20) scale(0.875 1)" font-size="27.5" text-anchor="end">40</text>
<text transform="translate(60.40 608.95) scale(0.875 1)" font-size="27.5" text-anchor="end">45</text>
<text transform="translate(60.40 570.70) scale(0.875 1)" font-size="27.5" text-anchor="end">50</text>
<text transform="translate(555.20 953.20) scale(0.875 1)" font-size="27.5">0</text>
<text transform="translate(555.20 889.45) scale(0.875 1)" font-size="27.5">20</text>
<text transform="translate(555.20 825.70) scale(0.875 1)" font-size="27.5">40</text>
<text transform="translate(555.20 761.95) scale(0.875 1)" font-size="27.5">60</text>
<text transform="translate(555.20 698.20) scale(0.875 1)" font-size="27.5">80</text>
<text transform="translate(555.20 634.45) scale(0.875 1)" font-size="27.5">100</text>
<text transform="translate(555.20 570.70) scale(0.875 1)" font-size="27.5">120</text>
<text transform="translate(69.20 973.10) scale(0.875 1)" font-size="27.5" text-anchor="middle">0</text>
<text transform="translate(128.68 973.10) scale(0.875 1)" font-size="27.5" text-anchor="middle">1</text>
<text transform="translate(188.15 973.10) scale(0.875 1)" font-size="27.5" text-anchor="middle">2</text>
<text transform="translate(247.62 973.10) scale(0.875 1)" font-size="27.5" text-anchor="middle">3</text>
<text transform="translate(307.10 973.10) scale(0.875 1)" font-size="27.5" text-anchor="middle">4</text>
<text transform="translate(366.57 973.10) scale(0.875 1)" font-size="27.5" text-anchor="middle">5</text>
<text transform="translate(426.05 973.10) scale(0.875 1)" font-size="27.5" text-anchor="middle">6</text>
<text transform="translate(485.52 973.10) scale(0.875 1)" font-size="27.5" text-anchor="middle">7</text>
<text transform="translate(545.00 973.10) scale(0.875 1)" font-size="27.5" text-anchor="middle">8</text>
<text x="174.5" y="1013.6" font-size="25.5" textLength="268.0" lengthAdjust="spacingAndGlyphs">Equivalent diameter/(mm)</text>
<text x="26.2" y="929.4" font-size="25.0" textLength="353.2" lengthAdjust="spacingAndGlyphs" transform="rotate(-90 26.2 929.4)">Bubble hole diameter frequency/%</text>
<text x="618.6" y="976.6" font-size="25.0" textLength="447.2" lengthAdjust="spacingAndGlyphs" transform="rotate(-90 618.6 976.6)">Percentage of the number of bubble holes/%</text>
<text x="4.2" y="566.2" font-size="24">(c)</text>
<text x="350.0" y="894.3" font-size="29" textLength="154.5" lengthAdjust="spacingAndGlyphs">XY profile of</text>
<text x="351.5" y="926.2" font-size="28.5" textLength="130.5" lengthAdjust="spacingAndGlyphs">bubble hole</text>
</g>
<g id="pd">
<g fill="#FBC58D" stroke="#4a3a28" stroke-width="1.0"><rect x="696.49" y="687.32" width="11.90" height="255.48"/><rect x="711.36" y="799.72" width="11.90" height="143.08"/><rect x="726.24" y="892.63" width="11.90" height="50.17"/><rect x="741.11" y="923.85" width="11.90" height="18.95"/><rect x="755.99" y="926.54" width="11.90" height="16.26"/><rect x="770.86" y="929.53" width="11.90" height="13.27"/><rect x="785.74" y="927.07" width="11.90" height="15.73"/><rect x="800.61" y="919.02" width="11.90" height="23.78"/><rect x="815.49" y="910.04" width="11.90" height="32.76"/><rect x="830.36" y="890.86" width="11.90" height="51.94"/><rect x="845.24" y="871.60" width="11.90" height="71.20"/><rect x="860.11" y="895.85" width="11.90" height="46.95"/><rect x="874.99" y="919.55" width="11.90" height="23.25"/><rect x="889.86" y="940.27" width="11.90" height="2.53"/><rect x="904.74" y="942.34" width="11.90" height="0.46"/></g>
<rect x="695.0" y="559.2" width="476.0" height="383.6" fill="none" stroke="#141414" stroke-width="1.7"/>
<path d="M695.0 904.44h7.0M695.0 866.08h7.0M695.0 827.72h7.0M695.0 789.36h7.0M695.0 751.00h7.0M695.0 712.64h7.0M695.0 674.28h7.0M695.0 635.92h7.0M695.0 597.56h7.0M1171.0 878.87h-7.0M1171.0 814.93h-7.0M1171.0 751.00h-7.0M1171.0 687.07h-7.0M1171.0 623.13h-7.0M754.50 942.8v-7.0M814.00 942.8v-7.0M873.50 942.8v-7.0M933.00 942.8v-7.0M992.50 942.8v-7.0M1052.00 942.8v-7.0M1111.50 942.8v-7.0" stroke="#141414" stroke-width="1.5" fill="none"/>
<g id="ctd"><rect x="938.2" y="647.0" width="218.2" height="216.2" fill="#000"/><circle cx="1048.1" cy="752.7" r="98.1" fill="#070707"/><clipPath id="cld"><circle cx="1048.1" cy="752.7" r="98.1"/></clipPath><g clip-path="url(#cld)"><g filter="url(#soft)"><rect x="938.2" y="647.0" width="218.2" height="216.2" fill="#d2d2d2"/><g fill="#070707" stroke="#070707" stroke-linejoin="round"><path d="M1073.7 658.7L1072.7 658.9L1072.5 658.3ZM1011.9 756.5L1010.1 754.6L1010.9 754.3ZM950.7 747.9L951.1 750.3L950.6 750.3ZM970.0 702.2L969.0 700.6L970.3 701.8ZM1127.0 710.5L1124.5 705.9L1124.5 705.9L1127.1 710.4ZM990.9 786.9L991.7 787.6L989.9 788.1ZM1120.2 725.7L1120.0 725.1L1120.9 724.9ZM1091.3 725.8L1090.4 726.0L1090.7 725.0ZM1143.9 734.8L1142.8 734.0L1143.6 733.6Z" stroke-width="0.5"/><path d="M1113.2 825.1L1114.4 823.6L1114.6 823.8ZM1051.0 813.9L1050.2 815.9L1049.6 815.4L1050.9 813.9ZM1104.3 744.3L1105.2 742.7L1106.1 743.1ZM1002.7 718.6L1002.9 714.3L1004.1 714.8ZM1027.2 725.7L1023.7 730.1L1023.4 729.8L1027.2 725.6ZM1069.6 827.2L1070.6 825.9L1071.2 827.9ZM989.2 741.8L989.2 741.2L990.0 741.6Z" stroke-width="1.0"/><path d="M1141.3 779.6L1140.5 777.7L1142.0 777.0ZM1035.3 724.2L1033.4 724.2L1035.2 723.5ZM1001.5 723.5L1001.9 723.1L1002.4 723.1L1004.4 727.7L1004.2 727.8ZM1036.0 687.8L1035.4 689.6L1035.0 688.1ZM1037.4 750.8L1036.4 750.6L1036.4 749.5L1037.0 749.4ZM1014.0 761.7L1013.7 759.3L1013.8 759.3L1014.9 760.0ZM1097.7 750.1L1100.1 748.8L1099.2 750.9ZM1027.3 847.5L1026.8 844.5L1027.2 844.3L1028.6 847.8Z" stroke-width="1.5"/><path d="M1052.8 656.0L1051.6 657.5L1048.1 655.9ZM958.2 788.8L959.1 790.0L958.9 790.4ZM1144.8 754.4L1143.6 753.5L1144.8 752.3ZM1133.8 797.5L1132.7 797.1L1132.7 796.0L1135.0 795.0ZM1076.0 733.0L1072.7 733.3L1073.8 731.4L1076.1 732.6ZM1057.9 789.1L1056.1 788.9L1055.8 786.3L1058.2 788.4ZM1081.2 733.3L1080.8 734.8L1079.7 734.1L1079.9 733.4Z" stroke-width="2.0"/><path d="M1129.2 805.0L1128.8 804.6L1131.4 801.2L1131.6 801.2ZM1094.3 826.9L1094.8 827.5L1094.1 827.8ZM1085.5 836.5L1085.3 837.2L1084.5 836.7ZM1055.5 716.6L1056.4 718.3L1055.4 719.5L1054.0 716.9ZM963.7 786.5L962.2 787.1L961.5 786.2L962.6 785.1ZM1103.8 807.4L1102.8 807.4L1103.2 806.6L1103.7 806.7ZM1032.6 750.2L1031.1 750.6L1031.0 749.8L1032.6 750.1ZM1068.9 812.0L1066.4 810.1L1066.7 809.7L1069.3 811.7ZM1129.8 713.6L1128.9 714.5L1128.9 713.5L1129.1 713.3ZM1120.4 785.7L1120.5 786.2L1119.0 786.6L1118.8 785.5ZM1082.0 692.3L1083.2 692.8L1082.3 694.5Z" stroke-width="2.5"/><path d="M1044.9 848.9L1046.4 847.2L1051.1 848.9L1051.1 849.0ZM1115.9 684.4L1114.7 684.6L1114.2 682.7ZM1102.6 673.2L1101.3 673.1L1101.6 672.5ZM1072.3 818.1L1071.7 815.8L1073.6 814.0L1073.7 814.0L1074.6 815.6ZM1059.5 701.8L1056.8 704.2L1055.5 703.6L1058.6 700.4ZM1107.9 705.6L1105.2 710.1L1103.6 708.8L1106.7 705.3ZM981.0 753.0L974.9 753.7L974.8 753.4L981.0 752.3ZM1072.4 757.0L1069.3 755.0L1069.8 754.0L1073.7 755.7ZM1006.2 731.7L1008.7 733.6L1008.6 734.2L1005.0 734.7L1005.5 731.8ZM1108.2 700.6L1108.0 695.3L1109.2 700.8ZM1092.5 814.9L1091.8 817.1L1089.6 814.9ZM993.6 762.9L994.5 767.8L993.2 768.2L992.8 763.0ZM1126.6 720.8L1126.5 722.2L1125.6 722.2ZM1088.7 709.4L1090.5 710.4L1089.2 711.8L1088.1 710.9ZM1072.6 680.5L1072.9 678.6L1073.7 679.0L1073.6 680.6ZM971.6 727.8L973.0 727.9L971.5 728.5ZM976.3 705.3L972.5 705.1L973.0 704.3L976.4 705.0Z" stroke-width="3.0"/><path d="M1014.1 842.5L1015.0 841.4L1021.5 844.9ZM952.0 755.0L953.2 756.1L952.4 760.2L952.0 755.0ZM954.2 736.7L953.1 738.4L953.5 735.9ZM984.0 722.7L985.6 724.4L983.3 727.3L981.2 726.4L981.2 726.3ZM1081.4 810.9L1083.4 812.7L1079.1 813.1L1078.8 812.6ZM1019.7 704.6L1023.1 705.3L1020.4 708.1L1019.3 707.8ZM1003.7 822.8L1003.5 817.5L1005.9 819.2L1003.9 822.8ZM1103.8 799.0L1106.1 799.8L1104.4 802.0L1104.2 801.9Z" stroke-width="3.5"/><path d="M967.1 706.5L962.1 714.3L960.2 714.4L960.7 713.1L965.1 704.6L965.8 703.5L967.0 705.6ZM1134.0 710.0L1133.8 710.0L1130.8 708.4L1128.3 704.1L1129.4 701.9ZM1057.7 848.1L1061.1 845.8L1065.2 847.0ZM1096.9 670.2L1096.3 671.1L1089.0 668.6L1088.2 665.6L1095.8 669.5ZM990.9 675.7L991.8 678.1L991.8 678.2L984.6 682.2L983.6 681.8L990.6 675.9ZM970.0 808.3L970.4 808.3L975.6 815.5L975.0 814.9ZM1031.7 702.5L1035.0 698.1L1036.3 700.5L1034.2 703.1Z" stroke-width="4.0"/><path d="M1000.6 669.9L1002.2 671.8L996.9 674.0L996.3 672.5Z" stroke-width="4.5"/><path d="M983.7 708.5L983.5 708.6L981.9 707.0L982.1 706.6ZM1030.0 771.7L1030.9 772.1L1029.2 772.4ZM1027.4 669.4L1028.4 669.3L1028.9 670.8L1028.3 671.2ZM1053.5 709.9L1053.4 711.3L1053.1 711.3ZM1088.3 775.8L1087.5 775.0L1088.6 773.9L1088.8 775.6Z" stroke-width="5.0"/><path d="M990.6 686.6L990.6 687.7L990.3 687.8L989.9 687.0Z" stroke-width="5.5"/><path d="M1076.3 843.3L1078.7 840.2L1081.1 841.8ZM981.6 793.8L980.6 793.7L980.0 791.4L980.0 791.4L982.3 792.2ZM1051.6 759.1L1051.6 759.4L1049.8 759.4Z" stroke-width="6.0"/><path d="M1139.6 729.3L1137.7 729.1L1133.2 723.3L1133.4 719.2L1135.4 717.0L1135.6 717.0L1136.2 718.2L1139.2 727.2L1139.7 729.3ZM1092.4 836.2L1092.7 835.5L1093.3 834.9L1096.7 833.8ZM1010.0 666.2L1008.1 667.2L1008.0 667.0ZM955.8 773.7L959.2 776.2L958.9 779.8L957.7 781.0ZM1029.6 660.0L1028.6 661.4L1023.7 662.0L1023.6 661.4ZM1117.9 816.6L1117.6 814.8L1122.0 809.9L1123.7 809.6L1123.5 809.9ZM1084.2 753.2L1085.7 751.2L1086.0 751.3L1084.2 753.3ZM1066.3 791.4L1066.6 791.9L1066.4 792.1L1065.6 791.4Z" stroke-width="6.5"/><path d="M1029.4 828.7L1029.5 828.3L1031.1 828.2L1032.3 830.8L1031.6 831.1ZM1045.1 790.3L1045.6 786.9L1049.2 787.2L1049.4 788.5L1045.6 790.9ZM1127.1 754.3L1124.8 757.1L1124.7 757.1L1124.8 754.3L1126.6 753.9ZM985.5 781.3L985.9 783.8L985.5 784.4L984.8 784.1ZM1053.0 733.0L1054.1 734.5L1053.4 735.8L1050.8 734.5ZM1042.3 811.0L1042.2 810.7L1043.3 809.8L1044.2 811.0ZM1018.9 735.2L1018.7 737.4L1018.0 737.4L1016.5 735.8ZM1020.9 801.2L1022.6 799.1L1023.0 803.2L1022.6 803.4ZM1061.9 739.2L1063.2 739.3L1062.8 740.8L1061.0 740.7Z" stroke-width="7.0"/><path d="M1123.0 743.5L1123.1 745.2L1122.3 745.4L1120.2 742.9L1120.5 742.6ZM1111.8 804.4L1113.5 806.1L1112.2 807.6L1110.4 806.5L1110.4 806.2ZM1022.5 837.0L1023.8 836.1L1025.0 837.4L1024.7 838.2Z" stroke-width="7.5"/><path d="M1094.8 785.2L1094.5 786.8L1092.6 786.5L1092.6 783.7ZM1062.8 751.7L1059.5 752.5L1060.2 749.9L1062.8 750.1L1063.2 750.9ZM1036.4 680.7L1036.1 681.0L1034.3 681.4L1031.7 679.1L1032.9 678.3Z" stroke-width="8.0"/><path d="M1022.6 763.8L1023.4 766.0L1022.4 767.0L1019.7 765.6L1020.4 764.1ZM1041.6 706.8L1045.0 707.8L1044.6 709.3L1042.8 709.6L1041.5 707.0Z" stroke-width="8.5"/><path d="M1126.2 730.1L1128.0 732.4L1126.5 733.8L1125.0 733.3L1125.2 730.2L1125.3 730.1Z" stroke-width="9.0"/><path d="M989.5 716.2L989.5 715.9L991.0 714.1L995.3 713.9L995.6 714.2L995.4 717.9L991.4 718.2ZM1119.1 797.2L1120.9 794.3L1121.5 794.1L1124.7 797.0L1122.6 799.8L1121.8 799.9ZM1062.4 766.0L1061.0 763.1L1065.2 762.1L1066.5 763.0L1066.3 766.0ZM1032.4 759.0L1032.8 758.3L1034.9 757.7L1036.8 758.2L1037.4 758.7L1037.5 761.3L1035.2 764.0L1034.0 763.4ZM1005.3 766.4L1002.5 765.4L1001.9 762.0L1004.3 759.4L1005.0 759.5L1006.5 761.0L1007.0 765.2ZM1009.4 743.3L1007.2 748.1L1007.2 748.1L1006.2 748.0L1004.2 743.6L1004.7 743.1L1008.7 742.6ZM981.6 806.5L980.4 807.4L978.8 805.3L980.1 803.4L980.2 803.4ZM1106.7 686.1L1106.4 686.4L1106.4 686.5L1102.4 684.1L1102.8 681.3L1105.4 681.7ZM1080.2 769.1L1077.7 768.9L1078.2 762.8L1079.0 762.1L1081.0 762.9L1082.6 766.8ZM1048.5 723.6L1045.8 725.4L1042.5 722.8L1042.5 722.5L1043.5 720.6L1046.7 720.1ZM1095.3 757.2L1096.4 760.2L1093.1 761.9L1092.1 759.6L1094.6 756.9ZM1018.2 777.0L1016.8 779.9L1012.5 778.5L1012.2 775.5L1013.5 774.5ZM1038.2 839.4L1039.3 842.8L1037.3 845.1L1035.4 844.8L1034.3 842.1L1034.9 840.9ZM993.1 702.5L990.7 702.7L989.6 701.4L991.8 697.1L993.0 696.9L994.2 698.0ZM1020.5 676.4L1016.8 677.7L1014.9 675.0L1018.9 673.1ZM1097.4 715.2L1098.3 715.1L1100.6 717.0L1100.8 717.8L1096.9 721.5L1096.9 721.5L1095.8 720.0L1095.4 717.2ZM1065.7 834.6L1067.1 834.0L1069.9 835.3L1070.2 835.6L1067.8 838.8L1066.0 838.2ZM1036.0 802.5L1033.0 801.4L1032.9 800.1L1038.5 798.3L1039.0 798.8L1038.9 800.3ZM1078.6 706.5L1078.1 705.4L1080.2 703.7L1081.3 706.1L1081.2 706.3Z" stroke-width="9.5"/><path d="M1028.6 817.9L1026.3 814.6L1026.7 813.1L1028.3 812.2L1032.1 813.6L1032.4 814.6L1030.4 817.7ZM1076.9 741.7L1077.8 744.5L1075.7 747.3L1073.0 746.1L1072.4 745.0L1073.6 741.3L1075.9 741.0ZM1031.2 711.4L1033.1 715.2L1032.4 716.5L1030.3 717.3L1028.2 712.4L1029.5 711.0ZM1061.4 724.9L1065.6 725.5L1066.6 728.2L1066.0 729.3L1062.9 728.9L1060.6 725.7ZM1079.7 668.2L1075.9 670.6L1075.2 670.2L1074.8 669.6L1076.4 665.4L1078.1 664.9L1078.9 665.2ZM1045.0 749.8L1044.9 749.8L1044.7 748.8L1047.9 744.8L1050.1 745.8L1049.1 749.3ZM997.2 775.8L1000.8 777.1L1001.1 780.6L998.9 782.9L996.9 782.6L996.1 781.9L995.1 776.4ZM1049.8 837.0L1053.4 834.7L1053.9 834.9L1054.3 839.6L1053.0 840.5L1050.6 839.6ZM1007.8 809.9L1009.4 807.3L1012.3 807.2L1015.0 810.5L1014.9 810.8L1010.7 811.8ZM1066.1 777.7L1064.6 781.4L1062.6 781.7L1061.4 780.7L1062.7 777.7ZM1023.1 752.0L1022.6 752.7L1018.4 753.3L1018.0 752.5L1020.2 747.6L1020.6 747.6L1022.9 749.9ZM1072.2 803.6L1072.2 800.4L1073.2 799.6L1075.7 800.1L1075.7 804.3L1074.3 805.2ZM993.4 748.3L995.0 752.0L992.9 754.4L992.1 754.4L989.5 752.2L989.5 751.2L991.2 748.9Z" stroke-width="10.0"/><path d="M961.6 742.4L963.4 747.5L958.5 748.3L958.2 746.9L961.2 742.4ZM1131.8 787.4L1129.5 785.4L1133.2 781.9L1133.7 782.0L1134.9 784.7L1134.3 786.3ZM977.5 716.4L977.5 716.4L975.2 719.4L972.9 719.3L971.3 717.0L973.4 713.7L975.0 713.8ZM1105.6 787.4L1109.6 785.7L1110.5 786.3L1110.8 788.2L1108.9 791.4L1105.0 790.1ZM1064.6 708.8L1066.9 709.2L1068.0 711.8L1066.9 713.5L1063.0 712.9L1063.0 712.8L1063.2 710.1ZM1008.3 790.6L1009.0 789.8L1014.8 791.7L1014.8 791.9L1012.2 795.0L1010.1 795.1ZM1060.0 681.0L1057.0 678.1L1058.4 675.9L1064.5 676.3L1064.1 678.6ZM1121.8 696.7L1120.8 698.7L1117.5 698.2L1116.4 693.1L1118.6 692.7ZM967.8 794.0L970.2 794.7L970.6 796.1L968.6 799.0L968.0 799.0L965.8 794.9L965.8 794.9ZM1064.8 661.7L1063.9 663.8L1059.9 663.6L1059.2 661.1L1059.4 660.9ZM1103.9 774.6L1101.0 775.9L1098.5 774.2L1098.3 772.8L1103.5 770.0L1103.7 770.1ZM1040.8 823.9L1042.3 821.6L1045.2 821.7L1045.3 821.8L1046.0 825.0L1042.4 827.4ZM962.6 729.7L960.0 729.9L958.8 728.6L960.3 723.6L960.6 723.6L963.0 727.0L962.7 729.6ZM969.5 778.3L972.0 777.0L975.0 778.8L974.1 782.8L971.0 781.9L969.3 779.8ZM992.3 730.2L996.1 729.9L996.8 731.0L996.2 734.7L995.1 735.8L992.8 734.6L991.4 731.4Z" stroke-width="10.5"/><path d="M1075.8 786.7L1078.0 781.3L1079.7 781.4L1081.2 782.8L1081.3 787.6L1080.1 788.4L1076.2 787.5ZM1058.4 823.4L1057.5 819.0L1057.7 818.5L1061.8 817.4L1063.4 818.7L1064.1 821.4L1063.3 822.5L1059.7 824.0ZM1000.6 683.0L1004.4 681.4L1007.4 685.7L1006.6 688.0L1002.2 688.9L1000.9 687.8ZM984.7 819.1L990.0 815.5L994.2 816.4L994.5 822.2L991.2 824.7L990.2 824.7L984.5 819.8ZM1118.2 717.3L1112.7 715.0L1112.7 715.0L1115.3 710.7L1118.5 711.2L1120.2 714.4ZM1044.2 689.0L1047.1 686.0L1052.6 691.2L1052.5 693.8L1049.6 696.9L1044.1 695.3L1042.8 693.1ZM1089.9 741.2L1088.7 737.6L1089.4 735.0L1091.1 733.7L1093.6 733.2L1094.1 733.3L1097.3 740.5L1096.7 741.5L1093.5 743.2ZM1018.7 692.5L1019.6 689.7L1024.6 688.0L1027.2 690.3L1027.7 692.3L1024.7 696.3L1021.0 695.6ZM1090.4 682.7L1086.1 684.7L1083.8 683.6L1082.6 681.8L1082.6 681.1L1087.5 678.0L1090.8 679.1ZM984.2 768.6L983.2 768.9L979.1 766.4L979.6 762.1L981.6 761.9L983.8 763.8ZM1109.6 758.8L1108.6 758.3L1106.9 753.4L1107.7 751.6L1111.0 749.4L1114.0 753.0L1113.8 756.5ZM961.7 760.7L966.8 759.9L966.2 765.7L964.1 766.7L961.0 764.4ZM1096.8 703.0L1095.9 703.1L1092.4 701.3L1090.6 697.3L1090.9 696.7L1096.0 694.3L1099.2 696.3L1099.3 700.2ZM1034.8 732.3L1039.2 735.8L1034.5 741.7L1031.7 741.2L1029.5 739.0L1030.0 734.8L1032.0 732.3ZM1104.2 823.5L1102.3 823.0L1100.2 820.5L1101.5 816.3L1101.9 816.0L1104.5 815.9L1107.2 817.5L1107.5 819.7ZM1027.1 788.8L1026.6 787.2L1029.0 782.5L1033.6 781.8L1035.1 783.8L1034.5 786.8L1027.5 789.0ZM1017.1 823.0L1019.0 825.6L1018.9 826.2L1015.6 828.5L1013.0 825.2L1013.8 823.8ZM1048.2 668.6L1045.3 673.0L1038.5 668.4L1038.0 666.6L1041.2 662.0L1046.9 664.6ZM1137.8 770.0L1136.4 769.6L1133.9 763.2L1136.2 760.3L1138.4 760.2L1140.0 761.6L1138.9 769.4ZM1077.1 721.0L1078.7 718.5L1083.0 718.3L1083.3 718.5L1083.7 721.7L1083.0 723.7L1081.4 724.9L1079.9 725.0L1078.2 724.2ZM979.9 690.4L980.2 690.5L980.9 691.9L978.6 696.4L975.4 695.8ZM1134.3 742.8L1137.6 739.9L1137.7 739.9L1139.2 740.9L1139.8 742.7L1140.1 744.9L1137.7 747.3L1135.5 747.4L1134.4 746.2ZM1045.3 775.9L1043.3 773.2L1046.3 769.8L1050.7 769.9L1051.7 772.0L1049.9 776.2ZM1059.5 804.8L1054.2 806.1L1051.0 801.5L1051.1 800.4L1055.8 797.4L1056.5 797.5L1059.8 800.5L1059.8 804.4ZM1124.0 773.2L1120.1 776.9L1118.6 776.7L1116.7 775.3L1116.4 769.8L1121.0 767.3L1121.8 767.5ZM975.8 744.1L973.3 737.2L978.7 735.3L979.3 735.5L981.5 740.2L981.4 741.2L979.7 743.4ZM1002.0 832.7L1002.4 832.4L1003.1 833.3ZM1011.2 718.7L1016.4 716.6L1019.2 722.8L1018.1 724.1L1012.8 725.4L1012.1 724.9L1010.4 721.0ZM1080.3 828.7L1079.4 827.7L1078.5 824.5L1080.6 822.1L1083.8 821.8L1086.0 824.0L1085.2 827.6ZM1088.1 798.6L1089.5 797.5L1094.4 798.2L1095.2 803.5L1094.4 805.5L1093.9 805.9L1089.5 805.9L1088.2 804.7ZM1069.4 696.8L1066.6 696.3L1065.4 694.6L1065.4 692.3L1070.8 689.3L1072.2 689.5L1073.2 691.0L1073.6 693.6ZM1110.8 736.2L1110.5 736.2L1109.3 735.8L1106.4 729.3L1108.5 727.3L1113.4 729.3L1113.0 734.1ZM1005.1 706.6L1004.7 706.2L1005.8 701.3L1008.8 700.7L1010.7 703.3L1010.5 705.1L1005.9 706.9ZM996.4 795.0L998.8 800.8L996.9 803.8L993.3 803.0L991.2 798.1L992.2 795.5L994.8 794.8Z" stroke-width="11.0"/></g></g></g></g>
<text x="1066.5" y="847.6" font-size="25" textLength="81.0" lengthAdjust="spacingAndGlyphs" style="fill:#d81010">7.56mm</text>
<path d="M1088.4 856.2H1145.9" stroke="#d81010" stroke-width="1.9"/>
<polyline points="702.4,836.7 717.3,777.2 732.2,756.0 747.1,748.6 761.9,741.6 776.8,736.1 791.7,729.1 806.6,719.4 821.4,706.1 836.3,683.6 851.2,654.2 866.1,634.4 880.9,624.4 895.8,623.5 910.7,623.2 925.6,623.0 940.4,623.0 955.3,623.0 970.2,623.0 985.1,623.0 999.9,623.0 1014.8,623.0 1029.7,623.0 1044.6,623.0 1059.4,623.0 1074.3,623.0 1089.2,623.0 1104.1,623.0 1118.9,623.0 1133.8,623.0 1148.7,623.0 1163.6,623.0" fill="none" stroke="#0a0a0a" stroke-width="1.7"/>
<g fill="#050505"><rect x="698.0" y="832.2" width="8.9" height="8.9"/><rect x="712.9" y="772.8" width="8.9" height="8.9"/><rect x="727.7" y="751.5" width="8.9" height="8.9"/><rect x="742.6" y="744.1" width="8.9" height="8.9"/><rect x="757.5" y="737.1" width="8.9" height="8.9"/><rect x="772.4" y="731.6" width="8.9" height="8.9"/><rect x="787.2" y="724.6" width="8.9" height="8.9"/><rect x="802.1" y="714.9" width="8.9" height="8.9"/><rect x="817.0" y="701.6" width="8.9" height="8.9"/><rect x="831.9" y="679.1" width="8.9" height="8.9"/><rect x="846.7" y="649.8" width="8.9" height="8.9"/><rect x="861.6" y="629.9" width="8.9" height="8.9"/><rect x="876.5" y="619.9" width="8.9" height="8.9"/><rect x="891.4" y="619.0" width="8.9" height="8.9"/><rect x="906.2" y="618.8" width="8.9" height="8.9"/><rect x="921.1" y="618.5" width="8.9" height="8.9"/><rect x="936.0" y="618.5" width="8.9" height="8.9"/><rect x="950.9" y="618.5" width="8.9" height="8.9"/><rect x="965.7" y="618.5" width="8.9" height="8.9"/><rect x="980.6" y="618.5" width="8.9" height="8.9"/><rect x="995.5" y="618.5" width="8.9" height="8.9"/><rect x="1010.4" y="618.5" width="8.9" height="8.9"/><rect x="1025.2" y="618.5" width="8.9" height="8.9"/><rect x="1040.1" y="618.5" width="8.9" height="8.9"/><rect x="1055.0" y="618.5" width="8.9" height="8.9"/><rect x="1069.9" y="618.5" width="8.9" height="8.9"/><rect x="1084.7" y="618.5" width="8.9" height="8.9"/><rect x="1099.6" y="618.5" width="8.9" height="8.9"/><rect x="1114.5" y="618.5" width="8.9" height="8.9"/><rect x="1129.4" y="618.5" width="8.9" height="8.9"/><rect x="1144.2" y="618.5" width="8.9" height="8.9"/><rect x="1159.1" y="618.5" width="8.9" height="8.9"/></g>
<rect x="696.2" y="565.0" width="38.8" height="19.5" fill="#FBC58D" stroke="#4a3a28" stroke-width="1.1"/>
<path d="M697.5 603.2H736.8" stroke="#0a0a0a" stroke-width="1.8"/>
<rect x="713.0" y="600.0" width="8.9" height="9.3" fill="#050505"/>
<text x="747.0" y="582.6" font-size="25.5" textLength="325.0" lengthAdjust="spacingAndGlyphs">Bubble hole diameter frequency</text>
<text x="745.8" y="609.0" font-size="25.5" textLength="423.0" lengthAdjust="spacingAndGlyphs">Percentage of the number of bubble holes</text>
<text transform="translate(686.00 951.19) scale(0.875 1)" font-size="27.5" text-anchor="end">0</text>
<text transform="translate(686.00 912.83) scale(0.875 1)" font-size="27.5" text-anchor="end">5</text>
<text transform="translate(686.00 874.47) scale(0.875 1)" font-size="27.5" text-anchor="end">10</text>
<text transform="translate(686.00 836.12) scale(0.875 1)" font-size="27.5" text-anchor="end">15</text>
<text transform="translate(686.00 797.75) scale(0.875 1)" font-size="27.5" text-anchor="end">20</text>
<text transform="translate(686.00 759.39) scale(0.875 1)" font-size="27.5" text-anchor="end">25</text>
<text transform="translate(686.00 721.03) scale(0.875 1)" font-size="27.5" text-anchor="end">30</text>
<text transform="translate(686.00 682.67) scale(0.875 1)" font-size="27.5" text-anchor="end">35</text>
<text transform="translate(686.00 644.32) scale(0.875 1)" font-size="27.5" text-anchor="end">40</text>
<text transform="translate(686.00 605.96) scale(0.875 1)" font-size="27.5" text-anchor="end">45</text>
<text transform="translate(686.00 567.60) scale(0.875 1)" font-size="27.5" text-anchor="end">50</text>
<text transform="translate(1180.20 951.19) scale(0.875 1)" font-size="27.5">0</text>
<text transform="translate(1180.20 887.26) scale(0.875 1)" font-size="27.5">20</text>
<text transform="translate(1180.20 823.33) scale(0.875 1)" font-size="27.5">40</text>
<text transform="translate(1180.20 759.39) scale(0.875 1)" font-size="27.5">60</text>
<text transform="translate(1180.20 695.46) scale(0.875 1)" font-size="27.5">80</text>
<text transform="translate(1180.20 631.53) scale(0.875 1)" font-size="27.5">100</text>
<text transform="translate(1180.20 567.60) scale(0.875 1)" font-size="27.5">120</text>
<text transform="translate(695.00 971.20) scale(0.875 1)" font-size="27.5" text-anchor="middle">0</text>
<text transform="translate(754.50 971.20) scale(0.875 1)" font-size="27.5" text-anchor="middle">1</text>
<text transform="translate(814.00 971.20) scale(0.875 1)" font-size="27.5" text-anchor="middle">2</text>
<text transform="translate(873.50 971.20) scale(0.875 1)" font-size="27.5" text-anchor="middle">3</text>
<text transform="translate(933.00 971.20) scale(0.875 1)" font-size="27.5" text-anchor="middle">4</text>
<text transform="translate(992.50 971.20) scale(0.875 1)" font-size="27.5" text-anchor="middle">5</text>
<text transform="translate(1052.00 971.20) scale(0.875 1)" font-size="27.5" text-anchor="middle">6</text>
<text transform="translate(1111.50 971.20) scale(0.875 1)" font-size="27.5" text-anchor="middle">7</text>
<text transform="translate(1171.00 971.20) scale(0.875 1)" font-size="27.5" text-anchor="middle">8</text>
<text x="800.0" y="1011.9" font-size="25.5" textLength="267.0" lengthAdjust="spacingAndGlyphs">Equivalent diameter/(mm)</text>
<text x="651.9" y="927.1" font-size="25.0" textLength="351.1" lengthAdjust="spacingAndGlyphs" transform="rotate(-90 651.9 927.1)">Bubble hole diameter frequency/%</text>
<text x="1244.5" y="975.1" font-size="25.0" textLength="448.3" lengthAdjust="spacingAndGlyphs" transform="rotate(-90 1244.5 975.1)">Percentage of the number of bubble holes/%</text>
<text x="631.6" y="563.8" font-size="24">(d)</text>
<text x="970.2" y="895.2" font-size="28" textLength="155.0" lengthAdjust="spacingAndGlyphs">XY profile of</text>
<text x="971.0" y="927.3" font-size="28" textLength="131.0" lengthAdjust="spacingAndGlyphs">bubble hole</text>
</g>
</svg>
</body>
</html>
